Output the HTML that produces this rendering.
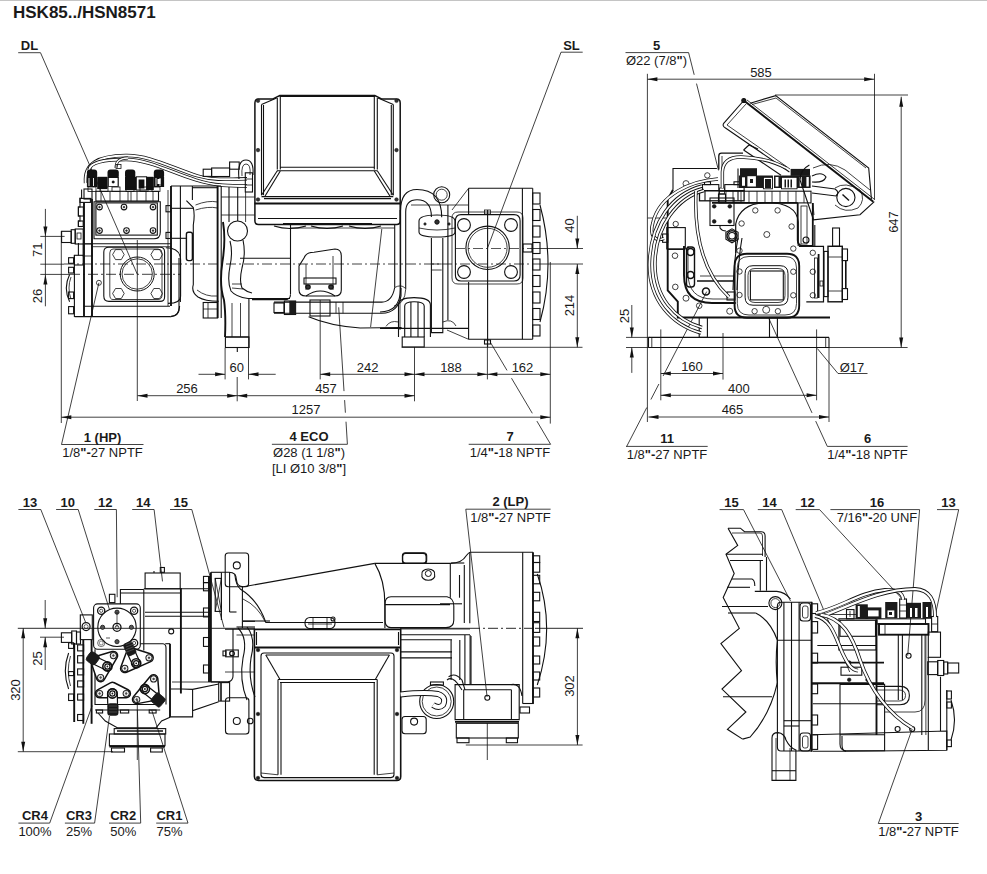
<!DOCTYPE html>
<html><head><meta charset="utf-8"><style>
html,body{margin:0;padding:0;background:#fff;}
svg{display:block;font-family:"Liberation Sans",sans-serif;fill:#1a1a1a;}
</style></head><body>
<svg width="987" height="874" viewBox="0 0 987 874">
<rect x="0" y="0" width="987" height="874" fill="#fff"/>
<line x1="0" y1="0.5" x2="987" y2="0.5" stroke="#c4c4c4" stroke-width="1.2"/>
<g stroke-linecap="butt">
<text x="13" y="17.8" font-size="17" font-weight="bold" text-anchor="start">HSK85../HSN8571</text>
<text x="29.5" y="49.6" font-size="13" font-weight="bold" text-anchor="middle">DL</text>
<line x1="18.2" y1="52.7" x2="40.5" y2="52.7" stroke="#111" stroke-width="0.8" />
<line x1="40.5" y1="52.7" x2="137.2" y2="274.0" stroke="#111" stroke-width="0.8" />
<text x="571.5" y="49.6" font-size="13" font-weight="bold" text-anchor="middle">SL</text>
<line x1="561.0" y1="52.2" x2="582.7" y2="52.2" stroke="#111" stroke-width="0.8" />
<line x1="561.0" y1="52.2" x2="487.6" y2="247.8" stroke="#111" stroke-width="0.8" />
<line x1="198.5" y1="374.3" x2="225.1" y2="374.3" stroke="#111" stroke-width="0.8" />
<polygon points="225.1,374.3 215.1,372.3 215.1,376.3" fill="#111"/>
<line x1="248.5" y1="374.3" x2="275.7" y2="374.3" stroke="#111" stroke-width="0.8" />
<polygon points="248.5,374.3 258.5,372.3 258.5,376.3" fill="#111"/>
<text x="236.8" y="371.5" font-size="13" text-anchor="middle">60</text>
<line x1="137.5" y1="395.7" x2="237.2" y2="395.7" stroke="#111" stroke-width="0.8" />
<polygon points="137.5,395.7 147.5,393.7 147.5,397.7" fill="#111"/>
<polygon points="237.2,395.7 227.2,393.7 227.2,397.7" fill="#111"/>
<text x="187" y="392.8" font-size="13" text-anchor="middle">256</text>
<line x1="237.2" y1="395.7" x2="414.5" y2="395.7" stroke="#111" stroke-width="0.8" />
<polygon points="237.2,395.7 247.2,393.7 247.2,397.7" fill="#111"/>
<polygon points="414.5,395.7 404.5,393.7 404.5,397.7" fill="#111"/>
<text x="326" y="392.8" font-size="13" text-anchor="middle">457</text>
<line x1="320.2" y1="374.3" x2="414.5" y2="374.3" stroke="#111" stroke-width="0.8" />
<polygon points="320.2,374.3 330.2,372.3 330.2,376.3" fill="#111"/>
<polygon points="414.5,374.3 404.5,372.3 404.5,376.3" fill="#111"/>
<text x="367.6" y="371.5" font-size="13" text-anchor="middle">242</text>
<line x1="414.5" y1="374.3" x2="487.4" y2="374.3" stroke="#111" stroke-width="0.8" />
<polygon points="414.5,374.3 424.5,372.3 424.5,376.3" fill="#111"/>
<polygon points="487.4,374.3 477.4,372.3 477.4,376.3" fill="#111"/>
<text x="451" y="371.5" font-size="13" text-anchor="middle">188</text>
<line x1="487.4" y1="374.3" x2="550.3" y2="374.3" stroke="#111" stroke-width="0.8" />
<polygon points="487.4,374.3 497.4,372.3 497.4,376.3" fill="#111"/>
<polygon points="550.3,374.3 540.3,372.3 540.3,376.3" fill="#111"/>
<text x="522.5" y="371.5" font-size="13" text-anchor="middle">162</text>
<line x1="61.3" y1="417.2" x2="550.3" y2="417.2" stroke="#111" stroke-width="0.8" />
<polygon points="61.3,417.2 71.3,415.2 71.3,419.2" fill="#111"/>
<polygon points="550.3,417.2 540.3,415.2 540.3,419.2" fill="#111"/>
<text x="306" y="414" font-size="13" text-anchor="middle">1257</text>
<line x1="61.3" y1="231.0" x2="61.3" y2="423.0" stroke="#111" stroke-width="0.8" />
<line x1="137.3" y1="240.0" x2="137.3" y2="401.0" stroke="#111" stroke-width="0.8" />
<line x1="225.1" y1="348.0" x2="225.1" y2="379.4" stroke="#111" stroke-width="0.8" />
<line x1="248.5" y1="348.0" x2="248.5" y2="379.4" stroke="#111" stroke-width="0.8" />
<line x1="237.2" y1="377.0" x2="237.2" y2="401.3" stroke="#111" stroke-width="0.8" />
<line x1="320.2" y1="300.0" x2="320.2" y2="379.4" stroke="#111" stroke-width="0.8" />
<line x1="414.5" y1="347.0" x2="414.5" y2="401.3" stroke="#111" stroke-width="0.8" />
<line x1="487.4" y1="340.0" x2="487.4" y2="379.4" stroke="#111" stroke-width="0.8" />
<line x1="550.3" y1="262.0" x2="550.3" y2="423.6" stroke="#111" stroke-width="0.8" />
<line x1="577.3" y1="215.8" x2="577.3" y2="248.5" stroke="#111" stroke-width="0.8" />
<polygon points="577.3,248.5 575.3,238.5 579.3,238.5" fill="#111"/>
<line x1="577.3" y1="264.0" x2="577.3" y2="347.3" stroke="#111" stroke-width="0.8" />
<polygon points="577.3,264.0 575.3,274.0 579.3,274.0" fill="#111"/>
<polygon points="577.3,347.3 575.3,337.3 579.3,337.3" fill="#111"/>
<text x="574" y="225.5" font-size="13" text-anchor="middle" transform="rotate(-90 574 225.5)">40</text>
<text x="574" y="305.5" font-size="13" text-anchor="middle" transform="rotate(-90 574 305.5)">214</text>
<line x1="530.0" y1="248.5" x2="583.0" y2="248.5" stroke="#111" stroke-width="0.8" />
<line x1="540.0" y1="264.0" x2="583.0" y2="264.0" stroke="#111" stroke-width="0.8" />
<line x1="401.7" y1="347.3" x2="582.5" y2="347.3" stroke="#111" stroke-width="0.8" />
<line x1="45.4" y1="208.9" x2="45.4" y2="236.4" stroke="#111" stroke-width="0.8" />
<polygon points="45.4,236.4 43.4,226.4 47.4,226.4" fill="#111"/>
<line x1="45.4" y1="236.4" x2="45.4" y2="274.5" stroke="#111" stroke-width="0.8" />
<line x1="45.4" y1="274.5" x2="45.4" y2="306.3" stroke="#111" stroke-width="0.8" />
<polygon points="45.4,274.5 43.4,284.5 47.4,284.5" fill="#111"/>
<text x="42.3" y="249.8" font-size="13" text-anchor="middle" transform="rotate(-90 42.3 249.8)">71</text>
<text x="42.3" y="296" font-size="13" text-anchor="middle" transform="rotate(-90 42.3 296)">26</text>
<line x1="40.3" y1="236.4" x2="64.6" y2="236.4" stroke="#111" stroke-width="0.8" />
<line x1="40.3" y1="264.2" x2="64.0" y2="264.2" stroke="#111" stroke-width="0.8" />
<line x1="40.3" y1="274.4" x2="70.0" y2="274.4" stroke="#111" stroke-width="0.8" />
<line x1="61.5" y1="444.5" x2="143.5" y2="444.5" stroke="#111" stroke-width="0.8" />
<text x="102.5" y="441.5" font-size="13" font-weight="bold" text-anchor="middle">1 (HP)</text>
<text x="102.5" y="457.0" font-size="13" text-anchor="middle">1/8<tspan font-weight="bold">"-</tspan>27 NPTF</text>
<line x1="61.5" y1="444.5" x2="98.9" y2="282.8" stroke="#111" stroke-width="0.8" />
<line x1="271.9" y1="444.3" x2="347.4" y2="444.3" stroke="#111" stroke-width="0.8" />
<text x="309" y="441.3" font-size="13" font-weight="bold" text-anchor="middle">4 ECO</text>
<text x="309" y="456.8" font-size="13" text-anchor="middle">Ø28 (1 1/8<tspan font-weight="bold">"</tspan>)</text>
<text x="309" y="473.3" font-size="13" text-anchor="middle">[LI Ø10 3/8<tspan font-weight="bold">"</tspan>]</text>
<line x1="347.4" y1="444.3" x2="346.0" y2="421.7" stroke="#111" stroke-width="0.8" />
<line x1="345.4" y1="412.7" x2="344.6" y2="400.1" stroke="#111" stroke-width="0.8" />
<line x1="344.0" y1="391.1" x2="338.7" y2="307.3" stroke="#111" stroke-width="0.8" />
<line x1="468.7" y1="444.3" x2="550.6" y2="444.3" stroke="#111" stroke-width="0.8" />
<text x="510" y="441.3" font-size="13" font-weight="bold" text-anchor="middle">7</text>
<text x="510" y="456.8" font-size="13" text-anchor="middle">1/4<tspan font-weight="bold">"-</tspan>18 NPTF</text>
<line x1="550.6" y1="444.3" x2="536.9" y2="421.1" stroke="#111" stroke-width="0.8" />
<line x1="532.3" y1="413.3" x2="511.5" y2="378.2" stroke="#111" stroke-width="0.8" />
<line x1="507.0" y1="370.4" x2="490.0" y2="341.7" stroke="#111" stroke-width="0.8" />
<line x1="625.5" y1="52.6" x2="688.6" y2="52.6" stroke="#111" stroke-width="0.8" />
<text x="656.5" y="49.6" font-size="13" font-weight="bold" text-anchor="middle">5</text>
<text x="656.5" y="65.1" font-size="13" text-anchor="middle">Ø22 (7/8<tspan font-weight="bold">"</tspan>)</text>
<line x1="688.6" y1="52.6" x2="694.2" y2="74.8" stroke="#111" stroke-width="0.8" />
<line x1="696.5" y1="83.6" x2="718.5" y2="170.4" stroke="#111" stroke-width="0.8" />
<line x1="647.4" y1="79.2" x2="874.2" y2="79.2" stroke="#111" stroke-width="0.8" />
<polygon points="647.4,79.2 657.4,77.2 657.4,81.2" fill="#111"/>
<polygon points="874.2,79.2 864.2,77.2 864.2,81.2" fill="#111"/>
<text x="761" y="76.7" font-size="13" text-anchor="middle">585</text>
<line x1="647.4" y1="73.8" x2="647.4" y2="422.0" stroke="#111" stroke-width="0.8" />
<line x1="874.5" y1="73.8" x2="874.5" y2="200.0" stroke="#111" stroke-width="0.8" />
<line x1="775.0" y1="95.0" x2="908.0" y2="95.0" stroke="#111" stroke-width="0.8" />
<line x1="901.2" y1="96.7" x2="901.2" y2="347.5" stroke="#111" stroke-width="0.8" />
<polygon points="901.2,96.7 899.2,106.7 903.2,106.7" fill="#111"/>
<polygon points="901.2,347.5 899.2,337.5 903.2,337.5" fill="#111"/>
<text x="897.5" y="222" font-size="13" text-anchor="middle" transform="rotate(-90 897.5 222)">647</text>
<line x1="626.0" y1="337.4" x2="650.0" y2="337.4" stroke="#111" stroke-width="0.8" />
<line x1="626.0" y1="347.5" x2="907.6" y2="347.5" stroke="#111" stroke-width="0.8" />
<line x1="631.8" y1="305.0" x2="631.8" y2="337.4" stroke="#111" stroke-width="0.8" />
<polygon points="631.8,337.4 629.8,327.4 633.8,327.4" fill="#111"/>
<line x1="631.8" y1="347.5" x2="631.8" y2="372.9" stroke="#111" stroke-width="0.8" />
<polygon points="631.8,347.5 629.8,357.5 633.8,357.5" fill="#111"/>
<text x="628.5" y="316" font-size="13" text-anchor="middle" transform="rotate(-90 628.5 316)">25</text>
<line x1="660.8" y1="329.4" x2="660.8" y2="400.3" stroke="#111" stroke-width="0.8" />
<line x1="723.0" y1="333.0" x2="723.0" y2="379.6" stroke="#111" stroke-width="0.8" />
<line x1="816.6" y1="329.4" x2="816.6" y2="400.3" stroke="#111" stroke-width="0.8" />
<line x1="829.0" y1="347.0" x2="829.0" y2="422.0" stroke="#111" stroke-width="0.8" />
<line x1="660.8" y1="373.5" x2="723.0" y2="373.5" stroke="#111" stroke-width="0.8" />
<polygon points="660.8,373.5 670.8,371.5 670.8,375.5" fill="#111"/>
<polygon points="723.0,373.5 713.0,371.5 713.0,375.5" fill="#111"/>
<text x="692" y="370.9" font-size="13" text-anchor="middle">160</text>
<line x1="660.8" y1="395.3" x2="816.6" y2="395.3" stroke="#111" stroke-width="0.8" />
<polygon points="660.8,395.3 670.8,393.3 670.8,397.3" fill="#111"/>
<polygon points="816.6,395.3 806.6,393.3 806.6,397.3" fill="#111"/>
<text x="738.8" y="392.6" font-size="13" text-anchor="middle">400</text>
<line x1="648.5" y1="417.0" x2="829.0" y2="417.0" stroke="#111" stroke-width="0.8" />
<polygon points="648.5,417.0 658.5,415.0 658.5,419.0" fill="#111"/>
<polygon points="829.0,417.0 819.0,415.0 819.0,419.0" fill="#111"/>
<text x="732.5" y="413.7" font-size="13" text-anchor="middle">465</text>
<line x1="626.0" y1="446.4" x2="707.7" y2="446.4" stroke="#111" stroke-width="0.8" />
<text x="667" y="443.4" font-size="13" font-weight="bold" text-anchor="middle">11</text>
<text x="667" y="458.9" font-size="13" text-anchor="middle">1/8<tspan font-weight="bold">"-</tspan>27 NPTF</text>
<line x1="626.7" y1="446.4" x2="646.8" y2="407.5" stroke="#111" stroke-width="0.8" />
<line x1="650.9" y1="399.5" x2="658.9" y2="384.0" stroke="#111" stroke-width="0.8" />
<line x1="663.1" y1="376.0" x2="706.7" y2="291.6" stroke="#111" stroke-width="0.8" />
<line x1="827.3" y1="446.4" x2="907.6" y2="446.4" stroke="#111" stroke-width="0.8" />
<text x="867.5" y="443.4" font-size="13" font-weight="bold" text-anchor="middle">6</text>
<text x="867.5" y="458.9" font-size="13" text-anchor="middle">1/4<tspan font-weight="bold">"-</tspan>18 NPTF</text>
<line x1="827.3" y1="446.4" x2="815.7" y2="421.1" stroke="#111" stroke-width="0.8" />
<line x1="812.0" y1="412.9" x2="768.8" y2="318.4" stroke="#111" stroke-width="0.8" />
<text x="852" y="371.9" font-size="13" text-anchor="middle">Ø17</text>
<line x1="838.0" y1="373.5" x2="867.5" y2="373.5" stroke="#111" stroke-width="0.8" />
<line x1="838.0" y1="373.5" x2="817.3" y2="348.5" stroke="#111" stroke-width="0.8" />
<line x1="18.4" y1="509.5" x2="40.8" y2="509.5" stroke="#111" stroke-width="0.8" />
<text x="30" y="506.5" font-size="13" font-weight="bold" text-anchor="middle">13</text>
<line x1="56.1" y1="509.5" x2="78.2" y2="509.5" stroke="#111" stroke-width="0.8" />
<text x="67.8" y="506.5" font-size="13" font-weight="bold" text-anchor="middle">10</text>
<line x1="94.3" y1="509.5" x2="116.4" y2="509.5" stroke="#111" stroke-width="0.8" />
<text x="105.2" y="506.5" font-size="13" font-weight="bold" text-anchor="middle">12</text>
<line x1="132.2" y1="509.5" x2="154.1" y2="509.5" stroke="#111" stroke-width="0.8" />
<text x="143.2" y="506.5" font-size="13" font-weight="bold" text-anchor="middle">14</text>
<line x1="170.0" y1="509.5" x2="191.8" y2="509.5" stroke="#111" stroke-width="0.8" />
<text x="180.8" y="506.5" font-size="13" font-weight="bold" text-anchor="middle">15</text>
<line x1="40.8" y1="509.5" x2="85.6" y2="622.3" stroke="#111" stroke-width="0.8" />
<line x1="78.2" y1="509.5" x2="109.3" y2="609.0" stroke="#111" stroke-width="0.8" />
<line x1="116.4" y1="509.5" x2="117.2" y2="597.2" stroke="#111" stroke-width="0.8" />
<line x1="154.1" y1="509.5" x2="162.5" y2="581.4" stroke="#111" stroke-width="0.8" />
<line x1="191.8" y1="509.5" x2="224.0" y2="627.5" stroke="#111" stroke-width="0.8" />
<line x1="465.8" y1="509.2" x2="550.6" y2="509.2" stroke="#111" stroke-width="0.8" />
<text x="510.5" y="506.2" font-size="13" font-weight="bold" text-anchor="middle">2 (LP)</text>
<text x="510.5" y="521.7" font-size="13" text-anchor="middle">1/8<tspan font-weight="bold">"-</tspan>27 NPTF</text>
<line x1="465.8" y1="509.2" x2="487.1" y2="697.0" stroke="#111" stroke-width="0.8" />
<line x1="17.8" y1="628.3" x2="255.0" y2="628.3" stroke="#111" stroke-width="0.9" />
<line x1="400.0" y1="628.3" x2="470.0" y2="628.3" stroke="#111" stroke-width="0.9" />
<line x1="470.0" y1="628.3" x2="535.0" y2="628.3" stroke="#111" stroke-width="0.9" stroke-dasharray="10 3 2 3"/>
<line x1="535.0" y1="628.3" x2="583.0" y2="628.3" stroke="#111" stroke-width="0.9" />
<line x1="40.0" y1="637.2" x2="64.0" y2="637.2" stroke="#111" stroke-width="0.8" />
<line x1="45.2" y1="600.0" x2="45.2" y2="628.3" stroke="#111" stroke-width="0.8" />
<polygon points="45.2,628.3 43.2,618.3 47.2,618.3" fill="#111"/>
<line x1="45.2" y1="637.2" x2="45.2" y2="670.0" stroke="#111" stroke-width="0.8" />
<polygon points="45.2,637.2 43.2,647.2 47.2,647.2" fill="#111"/>
<text x="42" y="658.5" font-size="13" text-anchor="middle" transform="rotate(-90 42 658.5)">25</text>
<line x1="23.2" y1="628.3" x2="23.2" y2="751.7" stroke="#111" stroke-width="0.8" />
<polygon points="23.2,628.3 21.2,638.3 25.2,638.3" fill="#111"/>
<polygon points="23.2,751.7 21.2,741.7 25.2,741.7" fill="#111"/>
<text x="20" y="690" font-size="13" text-anchor="middle" transform="rotate(-90 20 690)">320</text>
<line x1="17.8" y1="751.7" x2="113.0" y2="751.7" stroke="#111" stroke-width="0.8" />
<line x1="577.4" y1="628.3" x2="577.4" y2="745.0" stroke="#111" stroke-width="0.8" />
<polygon points="577.4,628.3 575.4,638.3 579.4,638.3" fill="#111"/>
<polygon points="577.4,745.0 575.4,735.0 579.4,735.0" fill="#111"/>
<text x="574" y="686" font-size="13" text-anchor="middle" transform="rotate(-90 574 686)">302</text>
<line x1="465.8" y1="745.0" x2="582.6" y2="745.0" stroke="#111" stroke-width="0.8" />
<line x1="18.4" y1="823.1" x2="49.7" y2="823.1" stroke="#111" stroke-width="0.8" />
<text x="35" y="820.1" font-size="13" font-weight="bold" text-anchor="middle">CR4</text>
<text x="35" y="835.6" font-size="13" text-anchor="middle">100%</text>
<line x1="64.9" y1="823.1" x2="94.6" y2="823.1" stroke="#111" stroke-width="0.8" />
<text x="79" y="820.1" font-size="13" font-weight="bold" text-anchor="middle">CR3</text>
<text x="79" y="835.6" font-size="13" text-anchor="middle">25%</text>
<line x1="109.0" y1="823.1" x2="140.7" y2="823.1" stroke="#111" stroke-width="0.8" />
<text x="123.2" y="820.1" font-size="13" font-weight="bold" text-anchor="middle">CR2</text>
<text x="123.2" y="835.6" font-size="13" text-anchor="middle">50%</text>
<line x1="156.2" y1="823.1" x2="188.0" y2="823.1" stroke="#111" stroke-width="0.8" />
<text x="169.5" y="820.1" font-size="13" font-weight="bold" text-anchor="middle">CR1</text>
<text x="169.5" y="835.6" font-size="13" text-anchor="middle">75%</text>
<line x1="49.7" y1="823.1" x2="92.2" y2="705.6" stroke="#111" stroke-width="0.8" />
<line x1="94.6" y1="823.1" x2="109.5" y2="716.0" stroke="#111" stroke-width="0.8" />
<line x1="140.7" y1="823.1" x2="137.4" y2="710.0" stroke="#111" stroke-width="0.8" />
<line x1="188.0" y1="823.1" x2="151.7" y2="710.0" stroke="#111" stroke-width="0.8" />
<line x1="719.6" y1="509.6" x2="743.5" y2="509.6" stroke="#111" stroke-width="0.8" />
<text x="731.5" y="506.6" font-size="13" font-weight="bold" text-anchor="middle">15</text>
<line x1="757.8" y1="509.6" x2="781.7" y2="509.6" stroke="#111" stroke-width="0.8" />
<text x="769.5" y="506.6" font-size="13" font-weight="bold" text-anchor="middle">14</text>
<line x1="795.7" y1="509.6" x2="819.6" y2="509.6" stroke="#111" stroke-width="0.8" />
<text x="807.6" y="506.6" font-size="13" font-weight="bold" text-anchor="middle">12</text>
<line x1="937.0" y1="509.6" x2="958.7" y2="509.6" stroke="#111" stroke-width="0.8" />
<text x="948.5" y="506.6" font-size="13" font-weight="bold" text-anchor="middle">13</text>
<line x1="830.4" y1="509.6" x2="919.6" y2="509.6" stroke="#111" stroke-width="0.8" />
<text x="877" y="506.6" font-size="13" font-weight="bold" text-anchor="middle">16</text>
<text x="877" y="522.1" font-size="13" text-anchor="middle">7/16<tspan font-weight="bold">"-</tspan>20 UNF</text>
<line x1="878.3" y1="823.5" x2="958.7" y2="823.5" stroke="#111" stroke-width="0.8" />
<text x="918.5" y="820.5" font-size="13" font-weight="bold" text-anchor="middle">3</text>
<text x="918.5" y="836.0" font-size="13" text-anchor="middle">1/8<tspan font-weight="bold">"-</tspan>27 NPTF</text>
<line x1="64.0" y1="264.0" x2="540.0" y2="264.0" stroke="#111" stroke-width="0.8" stroke-dasharray="10 3 2 3"/>
<line x1="70.0" y1="274.3" x2="180.0" y2="274.3" stroke="#111" stroke-width="0.8" stroke-dasharray="10 3 2 3"/>
<line x1="455.0" y1="248.5" x2="530.0" y2="248.5" stroke="#111" stroke-width="0.7" stroke-dasharray="10 3 2 3"/>
<path d="M254.9,103 Q254.9,99.1 258.5,99.1 L272.5,99.1 L279.8,95.5 L374.8,95.5 L382,99.1 L396.5,99.1 Q400.2,99.1 400.2,103 L400.2,221 Q400.2,224.5 396.7,224.5 L258.5,224.5 Q254.9,224.5 254.9,221 Z" fill="none" stroke="#111" stroke-width="1.5" />
<line x1="279.8" y1="95.9" x2="374.8" y2="95.9" stroke="#111" stroke-width="2.0" />
<line x1="261.5" y1="104.6" x2="261.5" y2="195.2" stroke="#111" stroke-width="1.1" />
<line x1="263.5" y1="105.0" x2="263.5" y2="195.2" stroke="#111" stroke-width="1.1" />
<line x1="261.5" y1="104.6" x2="276.7" y2="97.9" stroke="#111" stroke-width="1.1" />
<line x1="393.3" y1="104.6" x2="393.3" y2="195.2" stroke="#111" stroke-width="1.1" />
<line x1="391.3" y1="105.0" x2="391.3" y2="195.2" stroke="#111" stroke-width="1.1" />
<line x1="393.3" y1="104.6" x2="378.0" y2="97.9" stroke="#111" stroke-width="1.1" />
<line x1="277.3" y1="98.0" x2="277.3" y2="169.4" stroke="#111" stroke-width="1.1" />
<line x1="280.3" y1="96.0" x2="280.3" y2="169.4" stroke="#111" stroke-width="1.1" />
<line x1="374.3" y1="96.0" x2="374.3" y2="169.4" stroke="#111" stroke-width="1.1" />
<line x1="377.3" y1="98.0" x2="377.3" y2="169.4" stroke="#111" stroke-width="1.1" />
<line x1="280.0" y1="167.3" x2="374.5" y2="167.3" stroke="#111" stroke-width="1.1" />
<line x1="277.0" y1="170.8" x2="377.5" y2="170.8" stroke="#111" stroke-width="1.1" />
<line x1="277.3" y1="170.8" x2="261.5" y2="195.2" stroke="#111" stroke-width="1.1" />
<line x1="280.3" y1="171.0" x2="264.5" y2="197.0" stroke="#111" stroke-width="1.1" />
<line x1="377.3" y1="170.8" x2="393.3" y2="195.2" stroke="#111" stroke-width="1.1" />
<line x1="374.3" y1="171.0" x2="390.5" y2="197.0" stroke="#111" stroke-width="1.1" />
<line x1="261.5" y1="196.6" x2="393.3" y2="196.6" stroke="#111" stroke-width="1.1" />
<line x1="264.0" y1="198.6" x2="391.0" y2="198.6" stroke="#111" stroke-width="1.1" />
<line x1="254.6" y1="203.5" x2="400.2" y2="203.5" stroke="#111" stroke-width="2.0" />
<line x1="258.0" y1="218.5" x2="397.0" y2="218.5" stroke="#111" stroke-width="1.1" />
<circle cx="258.0" cy="100.8" r="1.8" fill="#333" stroke="#111" stroke-width="0.5"/>
<circle cx="258.0" cy="150.1" r="1.8" fill="#333" stroke="#111" stroke-width="0.5"/>
<circle cx="258.0" cy="199.5" r="1.8" fill="#333" stroke="#111" stroke-width="0.5"/>
<circle cx="396.5" cy="100.8" r="1.8" fill="#333" stroke="#111" stroke-width="0.5"/>
<circle cx="396.5" cy="150.1" r="1.8" fill="#333" stroke="#111" stroke-width="0.5"/>
<circle cx="396.5" cy="199.5" r="1.8" fill="#333" stroke="#111" stroke-width="0.5"/>
<path d="M274,226 Q290,231 306,226" fill="none" stroke="#111" stroke-width="1.1" />
<path d="M311,226 Q327,231 343,226" fill="none" stroke="#111" stroke-width="1.1" />
<path d="M349,226 Q365,231 381,226" fill="none" stroke="#111" stroke-width="1.1" />
<line x1="283.0" y1="223.5" x2="372.0" y2="223.5" stroke="#111" stroke-width="1.1" />
<path d="M85.5,183 C84,163 98,156 125.7,155.5 C150,155 172,168 198,176 C215,181 232,179 247,178.8" fill="none" stroke="#111" stroke-width="3.4"/>
<path d="M85.5,183 C84,163 98,156 125.7,155.5 C150,155 172,168 198,176 C215,181 232,179 247,178.8" fill="none" stroke="#fff" stroke-width="1.7999999999999998"/>
<path d="M89,170 C90,162 104,159.5 126,159.5 C150,160 170,172 196,180 C214,186 232,186 247,186" fill="none" stroke="#111" stroke-width="3.4"/>
<path d="M89,170 C90,162 104,159.5 126,159.5 C150,160 170,172 196,180 C214,186 232,186 247,186" fill="none" stroke="#fff" stroke-width="1.7999999999999998"/>
<path d="M116,168 C116,162 118,158.5 128,158" fill="none" stroke="#111" stroke-width="2.8"/>
<path d="M116,168 C116,162 118,158.5 128,158" fill="none" stroke="#fff" stroke-width="1.4"/>
<rect x="86.9" y="169.6" width="10.3" height="9.0" rx="3" fill="#111" stroke="#111" stroke-width="0"/>
<rect x="107.5" y="169.6" width="11.3" height="9.0" rx="3" fill="#111" stroke="#111" stroke-width="0"/>
<rect x="125.0" y="169.6" width="10.3" height="9.0" rx="3" fill="#111" stroke="#111" stroke-width="0"/>
<rect x="153.8" y="169.6" width="10.3" height="9.0" rx="3" fill="#111" stroke="#111" stroke-width="0"/>
<rect x="86.9" y="176.8" width="10.3" height="10.2" rx="0" fill="#111" stroke="#111" stroke-width="0"/>
<rect x="97.2" y="176.8" width="10.3" height="12.3" rx="0" fill="#111" stroke="#111" stroke-width="0"/>
<rect x="107.5" y="176.8" width="11.3" height="10.0" rx="0" fill="#111" stroke="#111" stroke-width="0"/>
<rect x="108.8" y="178.0" width="8.8" height="8.0" rx="0" fill="#fff" stroke="#111" stroke-width="0"/>
<circle cx="113.2" cy="182.0" r="1.3" fill="#111" stroke="#111" stroke-width="0.3"/>
<rect x="125.0" y="176.8" width="11.3" height="13.2" rx="0" fill="#111" stroke="#111" stroke-width="0"/>
<rect x="136.3" y="176.8" width="10.3" height="13.2" rx="0" fill="#fff" stroke="#111" stroke-width="1.0"/>
<rect x="138.6" y="179.5" width="5.8" height="9.0" rx="0" fill="#111" stroke="#111" stroke-width="0"/>
<rect x="146.6" y="176.8" width="7.2" height="13.2" rx="0" fill="#111" stroke="#111" stroke-width="0"/>
<rect x="153.8" y="176.8" width="10.3" height="10.2" rx="0" fill="#111" stroke="#111" stroke-width="0"/>
<line x1="89.0" y1="178.0" x2="89.0" y2="186.0" stroke="#fff" stroke-width="0.9" />
<line x1="93.5" y1="178.0" x2="93.5" y2="186.0" stroke="#fff" stroke-width="0.9" />
<line x1="156.0" y1="178.0" x2="156.0" y2="186.0" stroke="#fff" stroke-width="0.9" />
<line x1="160.0" y1="178.0" x2="160.0" y2="186.0" stroke="#fff" stroke-width="0.9" />
<rect x="157.5" y="179.0" width="3.0" height="5.0" rx="0" fill="#fff" stroke="#111" stroke-width="0"/>
<rect x="116.0" y="164.5" width="5.0" height="4.0" rx="0" fill="none" stroke="#111" stroke-width="0.8"/>
<rect x="88.0" y="187.0" width="8.0" height="4.5" rx="0" fill="none" stroke="#111" stroke-width="0.8"/>
<rect x="100.0" y="187.0" width="8.0" height="4.5" rx="0" fill="none" stroke="#111" stroke-width="0.8"/>
<rect x="112.0" y="187.0" width="8.0" height="4.5" rx="0" fill="none" stroke="#111" stroke-width="0.8"/>
<rect x="126.0" y="187.0" width="8.0" height="4.5" rx="0" fill="none" stroke="#111" stroke-width="0.8"/>
<rect x="140.0" y="187.0" width="8.0" height="4.5" rx="0" fill="none" stroke="#111" stroke-width="0.8"/>
<rect x="152.0" y="187.0" width="8.0" height="4.5" rx="0" fill="none" stroke="#111" stroke-width="0.8"/>
<rect x="95.9" y="191.3" width="62.6" height="9.7" rx="0" fill="none" stroke="#111" stroke-width="1.1"/>
<line x1="101.0" y1="191.3" x2="101.0" y2="201.0" stroke="#111" stroke-width="0.8" />
<line x1="110.0" y1="191.3" x2="110.0" y2="201.0" stroke="#111" stroke-width="0.8" />
<line x1="120.0" y1="191.3" x2="120.0" y2="201.0" stroke="#111" stroke-width="0.8" />
<line x1="128.0" y1="191.3" x2="128.0" y2="201.0" stroke="#111" stroke-width="0.8" />
<line x1="131.0" y1="191.3" x2="131.0" y2="201.0" stroke="#111" stroke-width="0.8" />
<line x1="137.0" y1="191.3" x2="137.0" y2="201.0" stroke="#111" stroke-width="0.8" />
<line x1="146.0" y1="191.3" x2="146.0" y2="201.0" stroke="#111" stroke-width="0.8" />
<line x1="153.0" y1="191.3" x2="153.0" y2="201.0" stroke="#111" stroke-width="0.8" />
<path d="M94,201.7 L160.3,201.7 L160.3,232 Q160.3,238.8 154,238.8 L94,238.8 Z" fill="none" stroke="#111" stroke-width="1.1" />
<rect x="95.9" y="202.9" width="61.4" height="32.2" rx="0" fill="none" stroke="#111" stroke-width="1.1"/>
<circle cx="99.5" cy="207.1" r="2.8" fill="none" stroke="#111" stroke-width="1.1"/>
<circle cx="99.5" cy="207.1" r="0.9" fill="#333" stroke="#111" stroke-width="0.5"/>
<circle cx="124.0" cy="207.1" r="2.8" fill="none" stroke="#111" stroke-width="1.1"/>
<circle cx="124.0" cy="207.1" r="0.9" fill="#333" stroke="#111" stroke-width="0.5"/>
<circle cx="153.0" cy="207.1" r="2.8" fill="none" stroke="#111" stroke-width="1.1"/>
<circle cx="153.0" cy="207.1" r="0.9" fill="#333" stroke="#111" stroke-width="0.5"/>
<circle cx="99.5" cy="230.6" r="2.8" fill="none" stroke="#111" stroke-width="1.1"/>
<circle cx="99.5" cy="230.6" r="0.9" fill="#333" stroke="#111" stroke-width="0.5"/>
<circle cx="126.5" cy="230.6" r="2.8" fill="none" stroke="#111" stroke-width="1.1"/>
<circle cx="126.5" cy="230.6" r="0.9" fill="#333" stroke="#111" stroke-width="0.5"/>
<circle cx="153.0" cy="230.6" r="2.8" fill="none" stroke="#111" stroke-width="1.1"/>
<circle cx="153.0" cy="230.6" r="0.9" fill="#333" stroke="#111" stroke-width="0.5"/>
<line x1="92.0" y1="199.0" x2="92.0" y2="317.0" stroke="#111" stroke-width="1.9" />
<line x1="84.0" y1="202.4" x2="84.0" y2="317.0" stroke="#111" stroke-width="1.9" />
<path d="M81.6,189.6 L81.6,198.4 L80,198.4 L80,207 L78.4,207 L78.4,216 L80,216 L80,221 L78.4,221 L78.4,226.5 L83,226.5" fill="none" stroke="#111" stroke-width="1.1" />
<rect x="80.0" y="198.4" width="10.4" height="4.0" rx="0" fill="none" stroke="#111" stroke-width="1.1"/>
<rect x="78.4" y="207.0" width="5.0" height="9.0" rx="0" fill="none" stroke="#111" stroke-width="1.1"/>
<rect x="78.4" y="221.0" width="4.8" height="5.5" rx="0" fill="none" stroke="#111" stroke-width="1.1"/>
<line x1="78.4" y1="243.0" x2="78.4" y2="255.3" stroke="#111" stroke-width="1.1" />
<rect x="74.4" y="255.3" width="8.8" height="9.7" rx="0" fill="none" stroke="#111" stroke-width="1.1"/>
<line x1="74.4" y1="255.3" x2="74.4" y2="317.0" stroke="#111" stroke-width="1.1" />
<rect x="68.6" y="257.7" width="5.0" height="5.6" rx="0" fill="none" stroke="#111" stroke-width="1.1"/>
<rect x="68.6" y="267.3" width="5.0" height="5.7" rx="0" fill="none" stroke="#111" stroke-width="1.1"/>
<rect x="68.6" y="292.0" width="5.0" height="6.6" rx="0" fill="none" stroke="#111" stroke-width="1.1"/>
<rect x="68.6" y="306.6" width="5.0" height="7.2" rx="0" fill="none" stroke="#111" stroke-width="1.1"/>
<path d="M69.6,274.5 Q63,288 69.6,301.8" fill="none" stroke="#111" stroke-width="1.1" />
<path d="M71,277 Q67,288 71,299" fill="none" stroke="#111" stroke-width="0.8" />
<rect x="83.0" y="244.0" width="9.0" height="12.0" rx="0" fill="none" stroke="#111" stroke-width="0.8"/>
<line x1="171.0" y1="186.0" x2="171.0" y2="306.0" stroke="#111" stroke-width="1.9" />
<line x1="168.0" y1="190.0" x2="168.0" y2="306.0" stroke="#111" stroke-width="0.8" />
<rect x="166.0" y="205.6" width="4.5" height="6.2" rx="0" fill="none" stroke="#111" stroke-width="1.1"/>
<rect x="166.0" y="232.4" width="4.5" height="6.1" rx="0" fill="none" stroke="#111" stroke-width="1.1"/>
<rect x="84.0" y="189.0" width="8.0" height="10.0" rx="0" fill="none" stroke="#111" stroke-width="1.1"/>
<rect x="61.6" y="231.3" width="9.6" height="11.2" rx="0" fill="none" stroke="#111" stroke-width="1.1"/>
<rect x="71.2" y="229.7" width="4.0" height="13.6" rx="0" fill="none" stroke="#111" stroke-width="1.1"/>
<rect x="75.2" y="229.0" width="8.0" height="15.0" rx="0" fill="none" stroke="#111" stroke-width="1.1"/>
<rect x="77.0" y="233.0" width="4.0" height="6.0" rx="0" fill="none" stroke="#111" stroke-width="0.8"/>
<line x1="74.6" y1="316.6" x2="170.6" y2="316.6" stroke="#111" stroke-width="1.1" />
<path d="M170.6,316.6 Q179,316 179,308 L179,258" fill="none" stroke="#111" stroke-width="1.1" />
<line x1="83.7" y1="306.3" x2="170.0" y2="306.3" stroke="#111" stroke-width="1.1" />
<line x1="84.0" y1="243.7" x2="171.0" y2="243.7" stroke="#111" stroke-width="1.1" />
<line x1="92.0" y1="246.7" x2="171.0" y2="246.7" stroke="#111" stroke-width="0.8" />
<path d="M109,247.3 L160,247.3 Q164.6,247.3 164.6,252 L164.6,297 Q164.6,301.4 160,301.4 L109,301.4 Q103.8,301.4 103.8,296 L103.8,252 Q103.8,247.3 109,247.3 Z" fill="none" stroke="#111" stroke-width="1.1" />
<path d="M113,249 L158,249 Q162,249 162,253 L162,295 Q162,299.5 158,299.5 L113,299.5 Q109.8,299.5 109.8,295 L109.8,253 Q109.8,249 113,249 Z" fill="none" stroke="#111" stroke-width="0.8" />
<circle cx="137.2" cy="274.0" r="17.0" fill="none" stroke="#111" stroke-width="1.0"/>
<circle cx="137.2" cy="274.0" r="15.2" fill="none" stroke="#111" stroke-width="0.8"/>
<path d="M124.2,254.6 L121.3,259.6 L115.5,259.6 L112.6,254.6 L115.5,249.6 L121.3,249.6 Z" fill="none" stroke="#111" stroke-width="0.8" />
<path d="M162.5,254.6 L159.6,259.6 L153.8,259.6 L150.9,254.6 L153.8,249.6 L159.6,249.6 Z" fill="none" stroke="#111" stroke-width="0.8" />
<path d="M124.2,293.5 L121.3,298.5 L115.5,298.5 L112.6,293.5 L115.5,288.5 L121.3,288.5 Z" fill="none" stroke="#111" stroke-width="0.8" />
<path d="M162.5,293.5 L159.6,298.5 L153.8,298.5 L150.9,293.5 L153.8,288.5 L159.6,288.5 Z" fill="none" stroke="#111" stroke-width="0.8" />
<circle cx="98.9" cy="282.8" r="2.5" fill="none" stroke="#111" stroke-width="0.8"/>
<path d="M165.8,247.8 Q180.6,248 180.6,260 L180.6,296 Q180.6,303.4 168,303.4" fill="none" stroke="#111" stroke-width="1.1" />
<path d="M170.6,316.6 Q179.6,316 179.6,306" fill="none" stroke="#111" stroke-width="1.1" />
<line x1="180.4" y1="186.0" x2="180.4" y2="302.0" stroke="#111" stroke-width="1.1" />
<line x1="192.4" y1="186.0" x2="192.4" y2="200.0" stroke="#111" stroke-width="1.1" />
<line x1="171.0" y1="208.3" x2="193.0" y2="208.3" stroke="#111" stroke-width="1.1" />
<line x1="171.0" y1="238.3" x2="186.0" y2="238.3" stroke="#111" stroke-width="1.1" />
<line x1="171.0" y1="186.0" x2="221.0" y2="186.0" stroke="#111" stroke-width="1.1" />
<path d="M192.4,187.7 L217.6,187.7" fill="none" stroke="#111" stroke-width="1.1" />
<path d="M186.4,200.6 L193.3,207.5 Q195,215 193.3,225 L193.3,284.6 Q191,292 198,297 Q205,301.3 218.8,301.3" fill="none" stroke="#111" stroke-width="1.1" />
<path d="M195.5,205 Q208,200 217.6,202" fill="none" stroke="#111" stroke-width="0.8" />
<path d="M195.5,210 Q208,206 217.6,208" fill="none" stroke="#111" stroke-width="0.8" />
<path d="M197,290 Q206,297 217,296" fill="none" stroke="#111" stroke-width="0.8" />
<line x1="217.6" y1="186.0" x2="217.6" y2="318.0" stroke="#111" stroke-width="1.9" />
<line x1="221.2" y1="186.0" x2="221.2" y2="318.0" stroke="#111" stroke-width="1.1" />
<rect x="186.4" y="232.3" width="6.0" height="28.3" rx="2" fill="none" stroke="#111" stroke-width="1.4"/>
<rect x="203.2" y="302.5" width="14.4" height="15.5" rx="0" fill="none" stroke="#111" stroke-width="1.1"/>
<line x1="208.0" y1="302.5" x2="208.0" y2="318.0" stroke="#111" stroke-width="0.8" />
<line x1="203.2" y1="309.0" x2="217.6" y2="309.0" stroke="#111" stroke-width="0.8" />
<rect x="203.2" y="169.2" width="8.4" height="7.2" rx="0" fill="none" stroke="#111" stroke-width="1.1"/>
<rect x="211.6" y="168.0" width="18.0" height="8.5" rx="0" fill="none" stroke="#111" stroke-width="1.1"/>
<rect x="229.6" y="162.0" width="9.6" height="7.2" rx="0" fill="none" stroke="#111" stroke-width="1.1"/>
<path d="M239,179 Q237,160 246,160 Q254,160 253,175" fill="none" stroke="#111" stroke-width="1.1" />
<path d="M242,176 Q241,164 246,164 Q251,164 250,175" fill="none" stroke="#111" stroke-width="0.8" />
<rect x="245.3" y="172.8" width="7.2" height="19.2" rx="0" fill="none" stroke="#111" stroke-width="1.1"/>
<line x1="245.3" y1="179.0" x2="252.5" y2="179.0" stroke="#111" stroke-width="0.8" />
<line x1="245.3" y1="185.0" x2="252.5" y2="185.0" stroke="#111" stroke-width="0.8" />
<line x1="229.0" y1="187.0" x2="229.0" y2="222.0" stroke="#111" stroke-width="1.1" />
<line x1="237.7" y1="187.0" x2="237.7" y2="221.0" stroke="#111" stroke-width="1.1" />
<line x1="245.6" y1="192.0" x2="245.6" y2="222.0" stroke="#111" stroke-width="0.8" />
<line x1="221.2" y1="197.0" x2="254.6" y2="197.0" stroke="#111" stroke-width="0.8" />
<line x1="221.2" y1="215.0" x2="254.6" y2="215.0" stroke="#111" stroke-width="0.8" />
<circle cx="237.5" cy="231.0" r="10.0" fill="none" stroke="#111" stroke-width="1.1"/>
<path d="M223,222 Q226,240 222.4,262 Q219,285 224,300 Q226,315 225,337" fill="none" stroke="#111" stroke-width="1.9" />
<path d="M230,241 Q233,252 230,266 Q227,282 231,291 Q236,297 248,298.5 L290,298.5" fill="none" stroke="#111" stroke-width="1.1" />
<path d="M243,240 Q246,254 242,268 Q239,281 242,288 Q247,292 252,293" fill="none" stroke="#111" stroke-width="1.1" />
<path d="M232,284 L242,284" fill="none" stroke="#111" stroke-width="0.8" />
<path d="M232,288 L243,289" fill="none" stroke="#111" stroke-width="0.8" />
<line x1="232.0" y1="303.0" x2="232.0" y2="337.0" stroke="#111" stroke-width="0.8" />
<line x1="240.5" y1="303.0" x2="240.5" y2="337.0" stroke="#111" stroke-width="0.8" />
<line x1="248.9" y1="298.0" x2="248.9" y2="348.0" stroke="#111" stroke-width="1.1" />
<line x1="240.0" y1="258.3" x2="290.5" y2="258.3" stroke="#111" stroke-width="1.1" />
<rect x="225.4" y="337.0" width="23.5" height="10.5" rx="0" fill="none" stroke="#111" stroke-width="1.1"/>
<line x1="225.4" y1="337.0" x2="248.9" y2="337.0" stroke="#111" stroke-width="1.1" />
<line x1="237.3" y1="347.0" x2="237.3" y2="352.0" stroke="#111" stroke-width="1.1" />
<line x1="290.5" y1="224.6" x2="290.5" y2="294.4" stroke="#111" stroke-width="1.1" />
<path d="M290.5,294.4 Q290.5,299.6 284.4,299.6 L252,299.6" fill="none" stroke="#111" stroke-width="1.1" />
<line x1="394.7" y1="225.0" x2="394.7" y2="287.5" stroke="#111" stroke-width="1.1" />
<path d="M308.6,316.8 Q330,326 360.2,328 L401.6,327.5" fill="none" stroke="#111" stroke-width="1.1" />
<line x1="370.6" y1="327.0" x2="381.8" y2="229.0" stroke="#111" stroke-width="0.8" />
<path d="M304,258 Q306,252.2 314,252.2 L335,249 Q341.3,249 341.3,256 L341.3,290 Q341.3,296 335,296 L306,296 Q299,296 299,290 L299,266 Z" fill="none" stroke="#111" stroke-width="1.1" />
<path d="M306,264 L306,290" fill="none" stroke="#111" stroke-width="0.8" />
<path d="M333,256 L333,290" fill="none" stroke="#111" stroke-width="0.8" />
<rect x="304.0" y="278.0" width="32.0" height="6.0" rx="0" fill="none" stroke="#111" stroke-width="1.1"/>
<circle cx="308.0" cy="287.0" r="2.2" fill="#333" stroke="#111" stroke-width="1.2"/>
<circle cx="331.0" cy="287.0" r="2.2" fill="#333" stroke="#111" stroke-width="1.2"/>
<path d="M306,296 Q320,286 335,296" fill="none" stroke="#111" stroke-width="1.1" />
<path d="M274,302.1 L381.8,302.1 Q392,302 394.7,287.5" fill="none" stroke="#111" stroke-width="1.1" />
<path d="M274,313.3 L381.8,313.3 Q398,313 401,296 L401,288" fill="none" stroke="#111" stroke-width="1.1" />
<rect x="274.0" y="303.0" width="10.0" height="9.5" rx="0" fill="none" stroke="#111" stroke-width="1.1"/>
<rect x="284.4" y="301.0" width="11.2" height="13.5" rx="0" fill="none" stroke="#111" stroke-width="1.1"/>
<rect x="289.3" y="301.0" width="6.3" height="13.5" rx="0" fill="#1a1a1a" stroke="#111" stroke-width="0"/>
<rect x="310.0" y="300.0" width="20.0" height="16.0" rx="0" fill="none" stroke="#111" stroke-width="1.1"/>
<line x1="336.0" y1="302.0" x2="336.0" y2="313.3" stroke="#111" stroke-width="0.8" />
<line x1="343.0" y1="302.0" x2="343.0" y2="313.3" stroke="#111" stroke-width="0.8" />
<path d="M394.7,287.5 Q401,284 405,288" fill="none" stroke="#111" stroke-width="0.8" />
<line x1="290.5" y1="228.0" x2="394.7" y2="228.0" stroke="#111" stroke-width="0.8" />
<path d="M400.6,289.3 L400.6,211 Q400.6,189.5 417,189.5 Q441.7,189.5 441.7,217.3" fill="none" stroke="#111" stroke-width="1.1" />
<path d="M405.7,289.3 L405.7,212 Q405.7,199.8 417,199.8 Q431.4,199.8 431.4,217" fill="none" stroke="#111" stroke-width="1.1" />
<path d="M400.6,289.3 Q400,312 380,312" fill="none" stroke="#111" stroke-width="1.1" />
<path d="M405.7,289.3 Q405,304 394,306" fill="none" stroke="#111" stroke-width="0.8" />
<path d="M419,221 Q419,215 437,215 Q455,215 455,221 L455,232 Q455,237 437,237 Q419,237 419,232 Z" fill="none" stroke="#111" stroke-width="1.1" />
<path d="M419,228 Q437,232 455,228" fill="none" stroke="#111" stroke-width="0.8" />
<circle cx="437.0" cy="222.0" r="2.2" fill="#333" stroke="#111" stroke-width="1.0"/>
<circle cx="425.0" cy="224.0" r="1.2" fill="#333" stroke="#111" stroke-width="0.6"/>
<circle cx="449.0" cy="224.0" r="1.2" fill="#333" stroke="#111" stroke-width="0.6"/>
<path d="M431.4,238 L431.4,332.6 L442.8,332.6 L442.8,238" fill="none" stroke="#111" stroke-width="1.1" />
<line x1="431.4" y1="264.0" x2="441.7" y2="264.0" stroke="#111" stroke-width="0.8" />
<line x1="431.4" y1="270.0" x2="441.7" y2="270.0" stroke="#111" stroke-width="0.8" />
<circle cx="441.7" cy="194.7" r="8.0" fill="none" stroke="#111" stroke-width="1.1"/>
<circle cx="441.7" cy="194.7" r="5.5" fill="none" stroke="#111" stroke-width="0.8"/>
<line x1="447.9" y1="205.0" x2="447.9" y2="320.0" stroke="#111" stroke-width="1.1" />
<line x1="411.0" y1="205.0" x2="468.0" y2="205.0" stroke="#111" stroke-width="0.8" />
<path d="M398.5,337 L398.5,305 Q398.5,297.6 414,297.6 Q430.4,297.6 430.4,305 L430.4,337" fill="none" stroke="#111" stroke-width="1.1" />
<rect x="402.2" y="337.0" width="22.0" height="10.0" rx="0" fill="none" stroke="#111" stroke-width="1.1"/>
<line x1="410.9" y1="302.0" x2="410.9" y2="337.0" stroke="#111" stroke-width="1.1" />
<line x1="418.0" y1="302.0" x2="418.0" y2="337.0" stroke="#111" stroke-width="1.1" />
<path d="M404.7,337 L404.7,306 Q404.7,301.7 414,301.7 Q424.2,301.7 424.2,306 L424.2,337" fill="none" stroke="#111" stroke-width="1.1" />
<path d="M386,326.4 Q390,320 398.5,322" fill="none" stroke="#111" stroke-width="0.8" />
<path d="M442.8,322 Q452,318 456,326" fill="none" stroke="#111" stroke-width="0.8" />
<line x1="380.0" y1="328.4" x2="468.6" y2="328.4" stroke="#111" stroke-width="1.1" />
<line x1="400.0" y1="210.0" x2="400.0" y2="330.0" stroke="#111" stroke-width="0.8" />
<line x1="468.6" y1="188.3" x2="532.7" y2="188.3" stroke="#111" stroke-width="1.1" />
<line x1="468.6" y1="188.3" x2="468.6" y2="214.0" stroke="#111" stroke-width="1.1" />
<line x1="468.6" y1="282.0" x2="468.6" y2="339.3" stroke="#111" stroke-width="1.1" />
<line x1="532.7" y1="188.3" x2="532.7" y2="339.3" stroke="#111" stroke-width="1.1" />
<line x1="522.4" y1="188.3" x2="522.4" y2="339.3" stroke="#111" stroke-width="1.1" />
<line x1="468.6" y1="339.3" x2="532.7" y2="339.3" stroke="#111" stroke-width="1.1" />
<path d="M452,210 L468.6,188.3" fill="none" stroke="#111" stroke-width="0.8" />
<path d="M447,330 L468.6,339.3" fill="none" stroke="#111" stroke-width="0.8" />
<rect x="532.7" y="193.0" width="7.3" height="11.0" rx="0" fill="none" stroke="#111" stroke-width="1.1"/>
<rect x="532.7" y="209.5" width="7.3" height="11.0" rx="0" fill="none" stroke="#111" stroke-width="1.1"/>
<rect x="532.7" y="226.0" width="7.3" height="11.0" rx="0" fill="none" stroke="#111" stroke-width="1.1"/>
<rect x="532.7" y="242.5" width="7.3" height="11.0" rx="0" fill="none" stroke="#111" stroke-width="1.1"/>
<rect x="532.7" y="259.0" width="7.3" height="11.0" rx="0" fill="none" stroke="#111" stroke-width="1.1"/>
<rect x="532.7" y="275.5" width="7.3" height="11.0" rx="0" fill="none" stroke="#111" stroke-width="1.1"/>
<rect x="532.7" y="292.0" width="7.3" height="11.0" rx="0" fill="none" stroke="#111" stroke-width="1.1"/>
<rect x="532.7" y="308.5" width="7.3" height="11.0" rx="0" fill="none" stroke="#111" stroke-width="1.1"/>
<rect x="532.7" y="325.0" width="7.3" height="11.0" rx="0" fill="none" stroke="#111" stroke-width="1.1"/>
<path d="M540,205 Q556,264 540,322" fill="none" stroke="#111" stroke-width="1.1" />
<path d="M461,214.6 L514,214.6 Q520.1,214.6 520.1,221 L520.1,275 Q520.1,281 514,281 L461,281 Q455.4,281 455.4,275 L455.4,221 Q455.4,214.6 461,214.6 Z" fill="none" stroke="#111" stroke-width="1.1" />
<path d="M458,212 L517,212 Q523,212 523,218 L523,278 Q523,284 517,284 L458,284 Q452,284 452,278 L452,218 Q452,212 458,212 Z" fill="none" stroke="#111" stroke-width="0.8" />
<circle cx="487.6" cy="247.8" r="21.7" fill="none" stroke="#111" stroke-width="1.1"/>
<circle cx="487.6" cy="247.8" r="19.5" fill="none" stroke="#111" stroke-width="0.8"/>
<circle cx="464.0" cy="225.0" r="6.4" fill="none" stroke="#111" stroke-width="1.1"/>
<circle cx="511.0" cy="225.0" r="6.4" fill="none" stroke="#111" stroke-width="1.1"/>
<circle cx="464.0" cy="272.0" r="6.4" fill="none" stroke="#111" stroke-width="1.1"/>
<circle cx="511.0" cy="272.0" r="6.4" fill="none" stroke="#111" stroke-width="1.1"/>
<line x1="487.6" y1="210.0" x2="487.6" y2="347.0" stroke="#111" stroke-width="1.1" />
<rect x="484.5" y="210.0" width="6.0" height="4.0" rx="0" fill="none" stroke="#111" stroke-width="0.8"/>
<rect x="484.5" y="340.0" width="6.0" height="4.0" rx="0" fill="none" stroke="#111" stroke-width="1.1"/>
<rect x="523.0" y="244.0" width="9.0" height="8.0" rx="0" fill="none" stroke="#111" stroke-width="1.1"/>
<line x1="648.5" y1="337.4" x2="829.0" y2="337.4" stroke="#111" stroke-width="1.1" />
<line x1="648.5" y1="347.5" x2="829.0" y2="347.5" stroke="#111" stroke-width="1.1" />
<line x1="648.5" y1="337.4" x2="648.5" y2="347.5" stroke="#111" stroke-width="1.1" />
<line x1="651.8" y1="337.4" x2="651.8" y2="347.5" stroke="#111" stroke-width="0.8" />
<line x1="829.0" y1="337.4" x2="829.0" y2="347.5" stroke="#111" stroke-width="1.1" />
<line x1="825.7" y1="337.4" x2="825.7" y2="347.5" stroke="#111" stroke-width="0.8" />
<rect x="699.2" y="317.5" width="8.2" height="19.9" rx="0" fill="none" stroke="#111" stroke-width="1.1"/>
<rect x="769.5" y="317.5" width="7.9" height="19.9" rx="0" fill="none" stroke="#111" stroke-width="1.1"/>
<path d="M673,189.8 L673,168.5 L716.9,168.5" fill="none" stroke="#111" stroke-width="1.1" />
<path d="M673,189.8 L667.7,199.4 L667.7,290.4 L677.8,301.7 L677.8,317.5 L830,317.5" fill="none" stroke="#111" stroke-width="1.9" />
<line x1="667.7" y1="249.4" x2="685.0" y2="249.4" stroke="#111" stroke-width="1.1" />
<circle cx="707.3" cy="175.4" r="2.7" fill="none" stroke="#111" stroke-width="0.8"/>
<circle cx="686.0" cy="183.6" r="3.0" fill="none" stroke="#111" stroke-width="0.8"/>
<circle cx="675.7" cy="224.0" r="2.7" fill="none" stroke="#111" stroke-width="0.8"/>
<circle cx="675.0" cy="255.7" r="2.8" fill="none" stroke="#111" stroke-width="0.8"/>
<circle cx="675.3" cy="286.9" r="2.8" fill="none" stroke="#111" stroke-width="0.8"/>
<circle cx="686.0" cy="298.2" r="3.0" fill="none" stroke="#111" stroke-width="0.8"/>
<circle cx="699.2" cy="305.7" r="2.8" fill="none" stroke="#111" stroke-width="0.8"/>
<circle cx="729.7" cy="311.2" r="3.0" fill="none" stroke="#111" stroke-width="0.8"/>
<circle cx="755.3" cy="210.4" r="2.7" fill="none" stroke="#111" stroke-width="0.8"/>
<circle cx="741.6" cy="223.5" r="2.7" fill="none" stroke="#111" stroke-width="0.8"/>
<circle cx="739.5" cy="250.7" r="2.7" fill="none" stroke="#111" stroke-width="0.8"/>
<circle cx="739.5" cy="271.5" r="2.7" fill="none" stroke="#111" stroke-width="0.8"/>
<circle cx="739.5" cy="295.0" r="2.7" fill="none" stroke="#111" stroke-width="0.8"/>
<circle cx="754.6" cy="311.2" r="2.7" fill="none" stroke="#111" stroke-width="0.8"/>
<circle cx="766.2" cy="309.8" r="3.5" fill="none" stroke="#111" stroke-width="0.8"/>
<circle cx="777.9" cy="311.2" r="2.7" fill="none" stroke="#111" stroke-width="0.8"/>
<circle cx="793.3" cy="271.7" r="2.7" fill="none" stroke="#111" stroke-width="0.8"/>
<circle cx="793.3" cy="295.3" r="2.7" fill="none" stroke="#111" stroke-width="0.8"/>
<circle cx="793.3" cy="248.6" r="2.7" fill="none" stroke="#111" stroke-width="0.8"/>
<circle cx="812.8" cy="252.8" r="2.7" fill="none" stroke="#111" stroke-width="0.8"/>
<circle cx="812.8" cy="271.7" r="2.7" fill="none" stroke="#111" stroke-width="0.8"/>
<circle cx="812.8" cy="295.3" r="2.7" fill="none" stroke="#111" stroke-width="0.8"/>
<circle cx="766.8" cy="234.5" r="3.0" fill="none" stroke="#111" stroke-width="0.8"/>
<circle cx="777.6" cy="210.4" r="2.7" fill="none" stroke="#111" stroke-width="0.8"/>
<circle cx="791.6" cy="226.5" r="2.7" fill="none" stroke="#111" stroke-width="0.8"/>
<path d="M684,246 L684,275 Q684,303 712,303 L735.7,303" fill="none" stroke="#111" stroke-width="1.9" />
<path d="M688,246 L688,273 Q688,299 713,299 L735,299" fill="none" stroke="#111" stroke-width="0.8" />
<rect x="686.5" y="247.0" width="8.0" height="40.0" rx="3" fill="none" stroke="#111" stroke-width="1.4"/>
<circle cx="690.5" cy="252.0" r="3.5" fill="none" stroke="#111" stroke-width="1.6"/>
<circle cx="690.5" cy="275.0" r="3.5" fill="none" stroke="#111" stroke-width="1.6"/>
<circle cx="706.0" cy="291.5" r="3.5" fill="none" stroke="#111" stroke-width="1.6"/>
<path d="M697,281 L735,281" fill="none" stroke="#111" stroke-width="1.3" />
<path d="M700,276 L735,276" fill="none" stroke="#111" stroke-width="0.8" />
<path d="M738,238 Q734,260 733,290" fill="none" stroke="#111" stroke-width="1.1" />
<path d="M742,238 Q738,262 737,290" fill="none" stroke="#111" stroke-width="1.1" />
<rect x="727.0" y="292.0" width="8.0" height="8.0" rx="0" fill="none" stroke="#111" stroke-width="1.1"/>
<rect x="666.8" y="227.6" width="18.5" height="21.3" rx="0" fill="none" stroke="#111" stroke-width="1.1"/>
<rect x="662.6" y="234.0" width="5.2" height="8.3" rx="0" fill="none" stroke="#111" stroke-width="1.1"/>
<line x1="647.6" y1="218.0" x2="666.8" y2="218.0" stroke="#111" stroke-width="0.8" />
<path d="M718.8,169.4 L718.8,156 Q718.8,153.2 721.5,153.2 L743,153.2" fill="none" stroke="#111" stroke-width="1.3" />
<line x1="722.0" y1="156.0" x2="722.0" y2="169.0" stroke="#111" stroke-width="0.8" />
<rect x="710.0" y="198.0" width="24.0" height="27.5" rx="0" fill="none" stroke="#111" stroke-width="1.1"/>
<circle cx="714.2" cy="206.3" r="1.9" fill="#1a1a1a" stroke="#111" stroke-width="0.5"/>
<circle cx="729.8" cy="206.3" r="1.9" fill="#1a1a1a" stroke="#111" stroke-width="0.5"/>
<circle cx="714.2" cy="221.4" r="1.9" fill="#1a1a1a" stroke="#111" stroke-width="0.5"/>
<circle cx="729.8" cy="221.4" r="1.9" fill="#1a1a1a" stroke="#111" stroke-width="0.5"/>
<path d="M738.1,239.3 L732.0,242.8 L725.9,239.3 L725.9,232.3 L732.0,228.8 L738.1,232.3 Z" fill="none" stroke="#111" stroke-width="1.1" />
<circle cx="732.0" cy="235.8" r="5.0" fill="none" stroke="#111" stroke-width="1.4"/>
<circle cx="732.0" cy="235.8" r="3.3" fill="none" stroke="#111" stroke-width="1.1"/>
<path d="M720,225.5 L720,228 Q722,231 726,231" fill="none" stroke="#111" stroke-width="1.1" />
<rect x="702.5" y="184.6" width="16.3" height="6.1" rx="0" fill="none" stroke="#111" stroke-width="1.1"/>
<rect x="724.8" y="184.6" width="19.3" height="6.1" rx="0" fill="none" stroke="#111" stroke-width="1.1"/>
<rect x="699.5" y="190.7" width="44.6" height="10.1" rx="0" fill="none" stroke="#111" stroke-width="1.3"/>
<line x1="705.0" y1="190.7" x2="705.0" y2="200.8" stroke="#111" stroke-width="1.1" />
<line x1="738.0" y1="190.7" x2="738.0" y2="200.8" stroke="#111" stroke-width="1.1" />
<rect x="718.5" y="194.0" width="7.0" height="8.0" rx="0" fill="none" stroke="#111" stroke-width="1.1"/>
<rect x="719.5" y="188.0" width="5.0" height="6.0" rx="0" fill="none" stroke="#111" stroke-width="0.8"/>
<rect x="704.5" y="181.8" width="6.0" height="2.8" rx="0" fill="none" stroke="#111" stroke-width="1.1"/>
<rect x="734.0" y="181.8" width="7.0" height="2.8" rx="0" fill="none" stroke="#111" stroke-width="1.1"/>
<rect x="719.0" y="191.2" width="92.0" height="11.7" rx="0" fill="none" stroke="#111" stroke-width="1.1"/>
<line x1="726.0" y1="191.2" x2="726.0" y2="202.9" stroke="#111" stroke-width="0.8" />
<line x1="733.0" y1="191.2" x2="733.0" y2="202.9" stroke="#111" stroke-width="0.8" />
<line x1="741.0" y1="191.2" x2="741.0" y2="202.9" stroke="#111" stroke-width="0.8" />
<line x1="749.0" y1="191.2" x2="749.0" y2="202.9" stroke="#111" stroke-width="0.8" />
<line x1="757.0" y1="191.2" x2="757.0" y2="202.9" stroke="#111" stroke-width="0.8" />
<line x1="765.0" y1="191.2" x2="765.0" y2="202.9" stroke="#111" stroke-width="0.8" />
<line x1="772.0" y1="191.2" x2="772.0" y2="202.9" stroke="#111" stroke-width="0.8" />
<line x1="780.0" y1="191.2" x2="780.0" y2="202.9" stroke="#111" stroke-width="0.8" />
<line x1="788.0" y1="191.2" x2="788.0" y2="202.9" stroke="#111" stroke-width="0.8" />
<line x1="796.0" y1="191.2" x2="796.0" y2="202.9" stroke="#111" stroke-width="0.8" />
<line x1="804.0" y1="191.2" x2="804.0" y2="202.9" stroke="#111" stroke-width="0.8" />
<line x1="712.0" y1="202.9" x2="797.7" y2="202.9" stroke="#111" stroke-width="1.9" />
<rect x="740.0" y="168.2" width="17.0" height="8.0" rx="0" fill="#1a1a1a" stroke="#111" stroke-width="0"/>
<rect x="738.9" y="175.5" width="34.0" height="12.5" rx="0" fill="#1a1a1a" stroke="#111" stroke-width="0"/>
<rect x="742.0" y="177.3" width="3.0" height="8.5" rx="0" fill="#fff" stroke="#111" stroke-width="0"/>
<rect x="747.4" y="176.2" width="8.5" height="10.3" rx="0" fill="#fff" stroke="#111" stroke-width="0"/>
<rect x="750.0" y="179.0" width="3.0" height="4.0" rx="0" fill="#1a1a1a" stroke="#111" stroke-width="0"/>
<rect x="763.4" y="177.3" width="9.0" height="11.5" rx="0" fill="#fff" stroke="#111" stroke-width="0.9"/>
<rect x="765.0" y="179.0" width="6.0" height="9.0" rx="0" fill="#1a1a1a" stroke="#111" stroke-width="0"/>
<rect x="790.6" y="168.9" width="19.4" height="7.0" rx="0" fill="#1a1a1a" stroke="#111" stroke-width="0"/>
<rect x="774.0" y="175.5" width="36.6" height="12.5" rx="0" fill="#1a1a1a" stroke="#111" stroke-width="0"/>
<rect x="781.5" y="177.3" width="15.5" height="11.5" rx="0" fill="#fff" stroke="#111" stroke-width="0.9"/>
<rect x="784.5" y="179.5" width="1.5" height="8.0" rx="0" fill="#1a1a1a" stroke="#111" stroke-width="0"/>
<rect x="787.5" y="179.5" width="1.5" height="8.0" rx="0" fill="#1a1a1a" stroke="#111" stroke-width="0"/>
<rect x="790.5" y="179.5" width="1.5" height="8.0" rx="0" fill="#1a1a1a" stroke="#111" stroke-width="0"/>
<rect x="775.5" y="177.0" width="3.0" height="9.5" rx="0" fill="#fff" stroke="#111" stroke-width="0"/>
<rect x="799.7" y="177.0" width="2.0" height="9.5" rx="0" fill="#fff" stroke="#111" stroke-width="0"/>
<rect x="806.4" y="177.0" width="2.4" height="9.5" rx="0" fill="#fff" stroke="#111" stroke-width="0"/>
<line x1="738.0" y1="168.5" x2="738.0" y2="188.0" stroke="#111" stroke-width="1.1" />
<path d="M735.7,253 L735.7,224 Q740,203 766.8,202.5 Q797,203 798.2,222 L798.2,246" fill="none" stroke="#111" stroke-width="1.2" />
<rect x="801.0" y="206.0" width="6.0" height="38.0" rx="0" fill="none" stroke="#111" stroke-width="0.8"/>
<circle cx="806.0" cy="240.0" r="3.0" fill="none" stroke="#111" stroke-width="1.1"/>
<line x1="812.8" y1="203.0" x2="814.0" y2="215.0" stroke="#111" stroke-width="0.8" />
<path d="M747,253.8 L787,253.8 Q799.2,253.8 799.2,266 L799.2,305.5 Q799.2,317.7 787,317.7 L747,317.7 Q734.6,317.7 734.6,305.5 L734.6,266 Q734.6,253.8 747,253.8 Z" fill="none" stroke="#111" stroke-width="1.9" />
<path d="M749,256.5 L785,256.5 Q796.5,256.5 796.5,268 L796.5,303.5 Q796.5,315 785,315 L749,315 Q737.3,315 737.3,303.5 L737.3,268 Q737.3,256.5 749,256.5 Z" fill="none" stroke="#111" stroke-width="0.8" />
<path d="M753,265.7 L780,265.7 Q788,265.7 788,273.7 L788,297.2 Q788,305.2 780,305.2 L753,305.2 Q745.1,305.2 745.1,297.2 L745.1,273.7 Q745.1,265.7 753,265.7 Z" fill="none" stroke="#111" stroke-width="1.0" />
<path d="M755,268.5 L778,268.5 Q785,268.5 785,275.5 L785,295.5 Q785,302.5 778,302.5 L755,302.5 Q748,302.5 748,295.5 L748,275.5 Q748,268.5 755,268.5 Z" fill="none" stroke="#111" stroke-width="0.8" />
<rect x="750.4" y="271.0" width="32.9" height="28.9" rx="0" fill="none" stroke="#111" stroke-width="1.1"/>
<path d="M798.9,246.3 L823.5,246.3 L823.5,301.8 L806.3,301.8" fill="none" stroke="#111" stroke-width="1.2" />
<line x1="818.6" y1="254.0" x2="818.6" y2="298.0" stroke="#111" stroke-width="1.8" />
<rect x="814.5" y="258.0" width="3.0" height="40.0" rx="0" fill="none" stroke="#111" stroke-width="0.8"/>
<rect x="820.0" y="281.0" width="3.0" height="5.0" rx="0" fill="none" stroke="#111" stroke-width="0.8"/>
<rect x="824.0" y="251.4" width="4.0" height="45.2" rx="0" fill="none" stroke="#111" stroke-width="1.1"/>
<rect x="828.0" y="246.3" width="14.3" height="55.5" rx="0" fill="none" stroke="#111" stroke-width="1.4"/>
<line x1="828.0" y1="257.0" x2="842.3" y2="257.0" stroke="#111" stroke-width="0.8" />
<line x1="828.0" y1="291.0" x2="842.3" y2="291.0" stroke="#111" stroke-width="0.8" />
<rect x="842.3" y="249.0" width="5.2" height="11.6" rx="0" fill="none" stroke="#111" stroke-width="1.1"/>
<rect x="842.3" y="288.6" width="5.2" height="10.9" rx="0" fill="none" stroke="#111" stroke-width="1.1"/>
<line x1="845.8" y1="260.6" x2="845.8" y2="288.6" stroke="#111" stroke-width="1.6" />
<rect x="832.6" y="228.0" width="6.9" height="18.3" rx="0" fill="none" stroke="#111" stroke-width="1.1"/>
<line x1="814.8" y1="225.0" x2="814.8" y2="246.0" stroke="#111" stroke-width="1.1" />
<path d="M797.7,203 L797.7,240 Q797.7,246 803,246 L812.8,246 L812.8,203" fill="none" stroke="#111" stroke-width="1.8" />
<path d="M743.8,100.5 L723.7,123.3 Q722,126 725.5,128 L789.4,172" fill="none" stroke="#111" stroke-width="1.1" />
<path d="M746,104 L727,125 L790,169" fill="none" stroke="#111" stroke-width="0.8" />
<path d="M743.8,100.5 L873.3,201.7" fill="none" stroke="#111" stroke-width="2.0" />
<path d="M747,100 L874,199" fill="none" stroke="#111" stroke-width="0.8" />
<path d="M750.2,103.2 L775.7,95.6 L868.7,168 L871.4,199" fill="none" stroke="#111" stroke-width="1.1" />
<path d="M752,104.5 L776,98 L866,168" fill="none" stroke="#111" stroke-width="0.8" />
<circle cx="743.8" cy="100.5" r="2.0" fill="#1a1a1a" stroke="#111" stroke-width="1.1"/>
<path d="M809.4,165.1 Q800,170 800,180 L813.5,219.8 L860,214.7 L874.3,201.6" fill="none" stroke="#111" stroke-width="1.1" />
<path d="M813,168 Q830,160 845,170 L870,190" fill="none" stroke="#111" stroke-width="0.8" />
<circle cx="845.9" cy="197.5" r="9.1" fill="none" stroke="#111" stroke-width="1.1"/>
<line x1="842.5" y1="194.5" x2="849.0" y2="200.5" stroke="#111" stroke-width="1.4" />
<path d="M835,188 Q845,181 860,190 Q866,200 858,208 Q845,214 835,205" fill="none" stroke="#111" stroke-width="0.8" />
<path d="M743.6,150 L781,175.2" fill="none" stroke="#111" stroke-width="1.1" />
<path d="M743.6,150 L749,145 L758,149" fill="none" stroke="#111" stroke-width="1.1" />
<path d="M812,176 Q822,171 826,177 Q824,183 812,182" fill="none" stroke="#111" stroke-width="1.1" />
<path d="M812,186 L835,189 Q840,192 836,196 L812,193" fill="none" stroke="#111" stroke-width="1.1" />
<path d="M718,179 C690,181 660,195 653,222 C649,236 655,242 664,238.5" fill="none" stroke="#111" stroke-width="3.4"/>
<path d="M718,179 C690,181 660,195 653,222 C649,236 655,242 664,238.5" fill="none" stroke="#fff" stroke-width="1.7999999999999998"/>
<path d="M702,186 C672,194 651,222 649.5,262 C648,300 672,325 701,333" fill="none" stroke="#111" stroke-width="3.4"/>
<path d="M702,186 C672,194 651,222 649.5,262 C648,300 672,325 701,333" fill="none" stroke="#fff" stroke-width="1.7999999999999998"/>
<path d="M704,190.5 C677,198 656,226 655,262 C654,297 675,320 702,327.5" fill="none" stroke="#111" stroke-width="3.4"/>
<path d="M704,190.5 C677,198 656,226 655,262 C654,297 675,320 702,327.5" fill="none" stroke="#fff" stroke-width="1.7999999999999998"/>
<path d="M696,191 C694,235 702,272 729,297" fill="none" stroke="#111" stroke-width="3.4"/>
<path d="M696,191 C694,235 702,272 729,297" fill="none" stroke="#fff" stroke-width="1.7999999999999998"/>
<path d="M722.4,188 L722.4,172 Q723,157 741,157 Q768,158 786,168" fill="none" stroke="#111" stroke-width="3.4"/>
<path d="M722.4,188 L722.4,172 Q723,157 741,157 Q768,158 786,168" fill="none" stroke="#fff" stroke-width="1.7999999999999998"/>
<rect x="93.6" y="603.9" width="46.7" height="45.3" rx="4" fill="none" stroke="#111" stroke-width="1.1"/>
<circle cx="117.0" cy="627.3" r="19.2" fill="none" stroke="#111" stroke-width="1.1"/>
<circle cx="101.2" cy="610.8" r="3.6" fill="none" stroke="#111" stroke-width="1.3"/>
<circle cx="101.2" cy="610.8" r="1.6" fill="none" stroke="#111" stroke-width="0.7"/>
<circle cx="134.1" cy="610.8" r="3.6" fill="none" stroke="#111" stroke-width="1.3"/>
<circle cx="134.1" cy="610.8" r="1.6" fill="none" stroke="#111" stroke-width="0.7"/>
<circle cx="134.1" cy="643.0" r="3.6" fill="none" stroke="#111" stroke-width="1.3"/>
<circle cx="134.1" cy="643.0" r="1.6" fill="none" stroke="#111" stroke-width="0.7"/>
<circle cx="101.2" cy="643.0" r="3.6" fill="none" stroke="#111" stroke-width="0.6"/>
<circle cx="101.2" cy="643.0" r="2.0" fill="none" stroke="#111" stroke-width="0.5"/>
<circle cx="117.0" cy="612.2" r="2.1" fill="#555" stroke="#111" stroke-width="0.8"/>
<circle cx="102.6" cy="627.3" r="2.1" fill="#555" stroke="#111" stroke-width="0.8"/>
<circle cx="131.4" cy="627.3" r="2.1" fill="#555" stroke="#111" stroke-width="0.8"/>
<circle cx="117.0" cy="641.7" r="2.1" fill="#555" stroke="#111" stroke-width="0.8"/>
<circle cx="117.0" cy="627.3" r="4.0" fill="none" stroke="#111" stroke-width="1.3"/>
<circle cx="117.0" cy="627.3" r="1.8" fill="none" stroke="#111" stroke-width="0.7"/>
<line x1="117.0" y1="612.0" x2="117.0" y2="627.0" stroke="#111" stroke-width="0.7" />
<line x1="106.0" y1="638.0" x2="110.0" y2="638.0" stroke="#111" stroke-width="0.7" />
<rect x="109.4" y="594.3" width="5.5" height="8.3" rx="0" fill="none" stroke="#111" stroke-width="1.1"/>
<rect x="80.3" y="614.9" width="12.0" height="24.7" rx="0" fill="none" stroke="#111" stroke-width="1.1"/>
<circle cx="86.1" cy="626.6" r="4.0" fill="none" stroke="#111" stroke-width="1.2"/>
<circle cx="86.1" cy="626.6" r="2.0" fill="none" stroke="#111" stroke-width="0.6"/>
<rect x="61.4" y="632.8" width="10.3" height="9.6" rx="0" fill="none" stroke="#111" stroke-width="1.1"/>
<rect x="71.7" y="631.0" width="4.8" height="13.0" rx="0" fill="none" stroke="#111" stroke-width="1.1"/>
<rect x="76.5" y="632.0" width="4.0" height="12.0" rx="0" fill="none" stroke="#111" stroke-width="1.1"/>
<line x1="83.3" y1="640.0" x2="83.3" y2="723.8" stroke="#111" stroke-width="1.9" />
<line x1="91.6" y1="640.0" x2="91.6" y2="723.8" stroke="#111" stroke-width="1.9" />
<line x1="74.2" y1="643.0" x2="74.2" y2="722.0" stroke="#111" stroke-width="1.9" />
<rect x="68.6" y="642.8" width="5.0" height="5.6" rx="0" fill="none" stroke="#111" stroke-width="1.1"/>
<rect x="68.6" y="671.6" width="5.0" height="4.0" rx="0" fill="none" stroke="#111" stroke-width="1.1"/>
<rect x="68.6" y="694.0" width="5.0" height="6.5" rx="0" fill="none" stroke="#111" stroke-width="1.1"/>
<rect x="77.6" y="644.9" width="6.0" height="6.0" rx="0" fill="none" stroke="#111" stroke-width="1.1"/>
<rect x="77.6" y="655.7" width="6.0" height="7.2" rx="0" fill="none" stroke="#111" stroke-width="1.1"/>
<rect x="77.6" y="668.9" width="6.0" height="6.0" rx="0" fill="none" stroke="#111" stroke-width="1.1"/>
<rect x="77.6" y="680.9" width="6.0" height="6.0" rx="0" fill="none" stroke="#111" stroke-width="1.1"/>
<rect x="77.6" y="694.1" width="6.0" height="6.0" rx="0" fill="none" stroke="#111" stroke-width="1.1"/>
<rect x="77.6" y="714.5" width="6.0" height="6.0" rx="0" fill="none" stroke="#111" stroke-width="1.1"/>
<path d="M68.6,653 Q62,671 68.6,689" fill="none" stroke="#111" stroke-width="1.1" />
<path d="M70.5,656 Q66,671 70.5,686" fill="none" stroke="#111" stroke-width="0.8" />
<path d="M95,649.2 L95,704.5 L156.1,704.5" fill="none" stroke="#111" stroke-width="1.1" />
<path d="M140.3,643.7 L163,643.7 Q166,644 166,648 L166,704.5" fill="none" stroke="#111" stroke-width="1.1" />
<line x1="95.0" y1="704.5" x2="160.2" y2="704.5" stroke="#111" stroke-width="1.1" />
<line x1="95.0" y1="710.0" x2="160.2" y2="710.0" stroke="#111" stroke-width="1.1" />
<rect x="96.4" y="710.0" width="6.2" height="3.0" rx="0" fill="none" stroke="#111" stroke-width="1.1"/>
<rect x="120.4" y="710.0" width="8.3" height="3.0" rx="0" fill="none" stroke="#111" stroke-width="1.1"/>
<rect x="149.2" y="710.0" width="6.9" height="3.0" rx="0" fill="none" stroke="#111" stroke-width="1.1"/>
<polygon points="113.4,655.6 100.6,677.5 95.0,661.0" fill="#111" stroke="#111" stroke-width="9.9" stroke-linejoin="round"/>
<polygon points="113.4,655.6 100.6,677.5 95.0,661.0" fill="#fff" stroke="#fff" stroke-width="6.9" stroke-linejoin="round"/>
<line x1="95" y1="660.5" x2="107.4" y2="666.5" stroke="#111" stroke-width="9" stroke-linecap="round"/>
<line x1="95" y1="660.5" x2="107.4" y2="666.5" stroke="#fff" stroke-width="6.6" stroke-linecap="round"/>
<circle cx="113.4" cy="655.6" r="3.6" fill="#1a1a1a" stroke="#111" stroke-width="0"/>
<circle cx="113.4" cy="655.6" r="2.3" fill="#fff" stroke="#fff" stroke-width="0.6"/>
<circle cx="113.4" cy="655.6" r="1.0" fill="#555" stroke="#111" stroke-width="0.4"/>
<circle cx="100.6" cy="677.5" r="3.6" fill="#1a1a1a" stroke="#111" stroke-width="0"/>
<circle cx="100.6" cy="677.5" r="2.3" fill="#fff" stroke="#fff" stroke-width="0.6"/>
<circle cx="100.6" cy="677.5" r="1.0" fill="#555" stroke="#111" stroke-width="0.4"/>
<circle cx="107.4" cy="666.5" r="4.6" fill="none" stroke="#111" stroke-width="1.6"/>
<circle cx="107.4" cy="666.5" r="2.6" fill="none" stroke="#111" stroke-width="1.2"/>
<circle cx="107.4" cy="666.5" r="0.9" fill="#1a1a1a" stroke="#111" stroke-width="0"/>
<rect x="87.3" y="652.8" width="11" height="11" rx="3" fill="#1a1a1a" stroke="#1a1a1a" stroke-width="0.8" transform="rotate(35 92.8 658.3)"/>
<polygon points="124.8,668.4 149.0,657.8 131.0,652.0" fill="#111" stroke="#111" stroke-width="9.9" stroke-linejoin="round"/>
<polygon points="124.8,668.4 149.0,657.8 131.0,652.0" fill="#fff" stroke="#fff" stroke-width="6.9" stroke-linejoin="round"/>
<line x1="131" y1="652" x2="136.2" y2="663.3" stroke="#111" stroke-width="9" stroke-linecap="round"/>
<line x1="131" y1="652" x2="136.2" y2="663.3" stroke="#fff" stroke-width="6.6" stroke-linecap="round"/>
<rect x="125.3" y="642.2" width="9" height="13" rx="2" fill="#1a1a1a" stroke="#1a1a1a" stroke-width="0.8" transform="rotate(-25 129.8 648.7)"/>
<line x1="125.8" y1="644.5" x2="133.8" y2="641.5" stroke="#777" stroke-width="0.5" />
<line x1="125.8" y1="647.1" x2="133.8" y2="644.1" stroke="#777" stroke-width="0.5" />
<line x1="125.8" y1="649.7" x2="133.8" y2="646.7" stroke="#777" stroke-width="0.5" />
<line x1="125.8" y1="652.3" x2="133.8" y2="649.3" stroke="#777" stroke-width="0.5" />
<circle cx="124.8" cy="668.4" r="3.6" fill="#1a1a1a" stroke="#111" stroke-width="0"/>
<circle cx="124.8" cy="668.4" r="2.3" fill="#fff" stroke="#fff" stroke-width="0.6"/>
<circle cx="124.8" cy="668.4" r="1.0" fill="#555" stroke="#111" stroke-width="0.4"/>
<circle cx="149.0" cy="657.8" r="3.6" fill="#1a1a1a" stroke="#111" stroke-width="0"/>
<circle cx="149.0" cy="657.8" r="2.3" fill="#fff" stroke="#fff" stroke-width="0.6"/>
<circle cx="149.0" cy="657.8" r="1.0" fill="#555" stroke="#111" stroke-width="0.4"/>
<circle cx="136.2" cy="663.3" r="4.6" fill="none" stroke="#111" stroke-width="1.6"/>
<circle cx="136.2" cy="663.3" r="2.6" fill="none" stroke="#111" stroke-width="1.2"/>
<circle cx="136.2" cy="663.3" r="0.9" fill="#1a1a1a" stroke="#111" stroke-width="0"/>
<polygon points="99.6,693.5 126.2,693.5 112.4,686.5" fill="#111" stroke="#111" stroke-width="9.9" stroke-linejoin="round"/>
<polygon points="99.6,693.5 126.2,693.5 112.4,686.5" fill="#fff" stroke="#fff" stroke-width="6.9" stroke-linejoin="round"/>
<line x1="112.4" y1="693.5" x2="112.6" y2="703" stroke="#111" stroke-width="11" stroke-linecap="round"/>
<line x1="112.4" y1="693.5" x2="112.6" y2="703" stroke="#fff" stroke-width="8.6" stroke-linecap="round"/>
<rect x="107.3" y="703.2" width="11.2" height="12.5" rx="3" fill="#1a1a1a" stroke="#111" stroke-width="0"/>
<line x1="109.0" y1="706.0" x2="117.0" y2="706.0" stroke="#777" stroke-width="0.5" />
<line x1="109.0" y1="709.0" x2="117.0" y2="709.0" stroke="#777" stroke-width="0.5" />
<line x1="109.0" y1="712.0" x2="117.0" y2="712.0" stroke="#777" stroke-width="0.5" />
<circle cx="99.6" cy="693.5" r="3.6" fill="#1a1a1a" stroke="#111" stroke-width="0"/>
<circle cx="99.6" cy="693.5" r="2.3" fill="#fff" stroke="#fff" stroke-width="0.6"/>
<circle cx="99.6" cy="693.5" r="1.0" fill="#555" stroke="#111" stroke-width="0.4"/>
<circle cx="126.2" cy="693.5" r="3.6" fill="#1a1a1a" stroke="#111" stroke-width="0"/>
<circle cx="126.2" cy="693.5" r="2.3" fill="#fff" stroke="#fff" stroke-width="0.6"/>
<circle cx="126.2" cy="693.5" r="1.0" fill="#555" stroke="#111" stroke-width="0.4"/>
<circle cx="112.4" cy="693.5" r="4.6" fill="none" stroke="#111" stroke-width="1.6"/>
<circle cx="112.4" cy="693.5" r="2.6" fill="none" stroke="#111" stroke-width="1.2"/>
<circle cx="112.4" cy="693.5" r="0.9" fill="#1a1a1a" stroke="#111" stroke-width="0"/>
<polygon points="153.6,678.9 136.7,699.5 155.0,696.0" fill="#111" stroke="#111" stroke-width="9.9" stroke-linejoin="round"/>
<polygon points="153.6,678.9 136.7,699.5 155.0,696.0" fill="#fff" stroke="#fff" stroke-width="6.9" stroke-linejoin="round"/>
<line x1="144.9" y1="689" x2="155" y2="697" stroke="#111" stroke-width="9" stroke-linecap="round"/>
<line x1="144.9" y1="689" x2="155" y2="697" stroke="#fff" stroke-width="6.6" stroke-linecap="round"/>
<rect x="152.4" y="694.5" width="11.5" height="11" rx="2" fill="#1a1a1a" stroke="#1a1a1a" stroke-width="0.8" transform="rotate(40 158.2 700)"/>
<circle cx="153.6" cy="678.9" r="3.6" fill="#1a1a1a" stroke="#111" stroke-width="0"/>
<circle cx="153.6" cy="678.9" r="2.3" fill="#fff" stroke="#fff" stroke-width="0.6"/>
<circle cx="153.6" cy="678.9" r="1.0" fill="#555" stroke="#111" stroke-width="0.4"/>
<circle cx="136.7" cy="699.5" r="3.6" fill="#1a1a1a" stroke="#111" stroke-width="0"/>
<circle cx="136.7" cy="699.5" r="2.3" fill="#fff" stroke="#fff" stroke-width="0.6"/>
<circle cx="136.7" cy="699.5" r="1.0" fill="#555" stroke="#111" stroke-width="0.4"/>
<circle cx="144.9" cy="689.0" r="4.6" fill="none" stroke="#111" stroke-width="1.6"/>
<circle cx="144.9" cy="689.0" r="2.6" fill="none" stroke="#111" stroke-width="1.2"/>
<circle cx="144.9" cy="689.0" r="0.9" fill="#1a1a1a" stroke="#111" stroke-width="0"/>
<path d="M98,713 L105.3,721 L117.7,727.9 L156,727.9 L161.6,721 L170.6,716.9" fill="none" stroke="#111" stroke-width="1.1" />
<rect x="114.2" y="728.6" width="51.5" height="5.4" rx="0" fill="none" stroke="#111" stroke-width="1.1"/>
<line x1="117.0" y1="731.0" x2="163.0" y2="731.0" stroke="#111" stroke-width="1.3" />
<rect x="109.4" y="734.0" width="55.6" height="11.7" rx="0" fill="none" stroke="#111" stroke-width="1.1"/>
<line x1="109.4" y1="746.5" x2="165.0" y2="746.5" stroke="#111" stroke-width="2.0" />
<rect x="111.5" y="748.0" width="13.0" height="4.0" rx="0" fill="none" stroke="#111" stroke-width="1.1"/>
<rect x="150.6" y="748.0" width="11.7" height="4.0" rx="0" fill="none" stroke="#111" stroke-width="1.1"/>
<line x1="137.3" y1="700.0" x2="137.3" y2="760.0" stroke="#111" stroke-width="0.8" />
<path d="M120.4,603.9 L120.4,589.5 L143.8,589.5" fill="none" stroke="#111" stroke-width="1.1" />
<line x1="143.8" y1="589.5" x2="143.8" y2="650.6" stroke="#111" stroke-width="1.1" />
<line x1="170.0" y1="643.7" x2="170.0" y2="716.9" stroke="#111" stroke-width="1.9" />
<line x1="165.3" y1="643.7" x2="170.0" y2="643.7" stroke="#111" stroke-width="1.1" />
<rect x="145.1" y="573.0" width="35.1" height="15.8" rx="0" fill="none" stroke="#111" stroke-width="1.1"/>
<rect x="160.3" y="567.5" width="4.1" height="4.8" rx="0" fill="none" stroke="#111" stroke-width="1.1"/>
<line x1="154.0" y1="571.0" x2="154.0" y2="573.0" stroke="#111" stroke-width="1.1" />
<line x1="120.4" y1="593.0" x2="180.0" y2="593.0" stroke="#111" stroke-width="1.1" />
<line x1="145.0" y1="612.2" x2="210.0" y2="612.2" stroke="#111" stroke-width="1.1" />
<line x1="145.0" y1="616.3" x2="210.0" y2="616.3" stroke="#111" stroke-width="1.1" />
<line x1="143.8" y1="588.8" x2="210.0" y2="588.8" stroke="#111" stroke-width="1.1" />
<circle cx="171.2" cy="631.4" r="2.5" fill="none" stroke="#111" stroke-width="1.1"/>
<line x1="180.9" y1="588.0" x2="180.9" y2="693.5" stroke="#111" stroke-width="1.9" />
<path d="M170.6,689 L181.6,689 L192.6,689.4 L218.7,684" fill="none" stroke="#111" stroke-width="1.1" />
<path d="M170.6,716.9 L192.6,716.9 L192.6,710.7 L218.7,701.8" fill="none" stroke="#111" stroke-width="1.1" />
<line x1="192.6" y1="689.4" x2="192.6" y2="710.7" stroke="#111" stroke-width="1.1" />
<rect x="218.7" y="682.6" width="10.9" height="18.5" rx="0" fill="none" stroke="#111" stroke-width="1.1"/>
<line x1="221.0" y1="683.0" x2="221.0" y2="701.0" stroke="#111" stroke-width="1.6" />
<rect x="203.5" y="576.4" width="5.5" height="6.2" rx="0" fill="none" stroke="#111" stroke-width="1.1"/>
<rect x="203.5" y="582.6" width="5.5" height="8.2" rx="0" fill="none" stroke="#111" stroke-width="1.1"/>
<rect x="203.5" y="608.0" width="5.5" height="8.9" rx="0" fill="none" stroke="#111" stroke-width="1.1"/>
<rect x="203.5" y="637.5" width="5.5" height="8.9" rx="0" fill="none" stroke="#111" stroke-width="1.1"/>
<rect x="203.5" y="665.0" width="5.5" height="8.0" rx="0" fill="none" stroke="#111" stroke-width="1.1"/>
<line x1="209.0" y1="576.0" x2="209.0" y2="681.9" stroke="#111" stroke-width="1.9" />
<line x1="210.9" y1="572.3" x2="210.9" y2="681.9" stroke="#111" stroke-width="1.9" />
<rect x="215.2" y="578.4" width="6.2" height="33.0" rx="0" fill="none" stroke="#111" stroke-width="1.1"/>
<line x1="215.2" y1="578.4" x2="221.4" y2="611.4" stroke="#111" stroke-width="0.8" />
<line x1="221.4" y1="578.4" x2="215.2" y2="611.4" stroke="#111" stroke-width="0.8" />
<line x1="210.9" y1="572.3" x2="221.4" y2="572.3" stroke="#111" stroke-width="1.1" />
<path d="M221.4,572.3 L229,572.3 Q236.5,572.3 236.5,580 Q237,586.7 243.4,586.7" fill="none" stroke="#111" stroke-width="1.1" />
<line x1="221.4" y1="572.3" x2="221.4" y2="620.0" stroke="#111" stroke-width="1.1" />
<line x1="229.6" y1="572.3" x2="229.6" y2="612.0" stroke="#111" stroke-width="1.1" />
<line x1="229.6" y1="612.0" x2="236.5" y2="612.0" stroke="#111" stroke-width="1.1" />
<rect x="225.2" y="553.0" width="23.4" height="33.7" rx="3" fill="none" stroke="#111" stroke-width="1.1"/>
<circle cx="236.8" cy="565.4" r="3.5" fill="none" stroke="#111" stroke-width="1.1"/>
<line x1="243.4" y1="586.7" x2="374.8" y2="563.4" stroke="#111" stroke-width="1.1" />
<line x1="243.0" y1="621.0" x2="270.0" y2="621.0" stroke="#111" stroke-width="1.1" />
<line x1="225.0" y1="629.2" x2="255.0" y2="629.2" stroke="#111" stroke-width="1.1" />
<path d="M210.9,681.9 L228,681.9 Q233,681 233,676 L233,629" fill="none" stroke="#111" stroke-width="1.1" />
<rect x="225.5" y="697.7" width="23.4" height="36.3" rx="3" fill="none" stroke="#111" stroke-width="1.1"/>
<circle cx="236.8" cy="721.0" r="3.5" fill="none" stroke="#111" stroke-width="1.1"/>
<circle cx="250.2" cy="721.0" r="2.8" fill="none" stroke="#111" stroke-width="1.1"/>
<line x1="225.0" y1="672.0" x2="255.0" y2="672.0" stroke="#111" stroke-width="0.8" />
<path d="M238,628 Q248,638 243,658 Q239,680 247,700" fill="none" stroke="#111" stroke-width="1.1" />
<path d="M247,627 Q256,638 251,658 Q248,678 255,697" fill="none" stroke="#111" stroke-width="1.1" />
<rect x="225.7" y="650.0" width="12.6" height="6.8" rx="0" fill="none" stroke="#111" stroke-width="1.1"/>
<circle cx="232.0" cy="653.4" r="2.3" fill="none" stroke="#111" stroke-width="1.3"/>
<rect x="223.0" y="651.0" width="3.0" height="4.8" rx="0" fill="none" stroke="#111" stroke-width="1.1"/>
<line x1="236.5" y1="627.0" x2="255.0" y2="627.0" stroke="#111" stroke-width="1.1" />
<line x1="236.5" y1="635.0" x2="255.0" y2="635.0" stroke="#111" stroke-width="0.8" />
<path d="M234.8,574.3 Q236,586 240.6,589.2 Q258,600 265.8,622.4" fill="none" stroke="#111" stroke-width="1.1" />
<line x1="242.9" y1="621.3" x2="255.0" y2="621.3" stroke="#111" stroke-width="1.1" />
<path d="M172,682 L220,682" fill="none" stroke="#111" stroke-width="0.8" />
<line x1="374.8" y1="563.4" x2="450.6" y2="563.4" stroke="#111" stroke-width="1.1" />
<path d="M450.6,563.4 Q462,563 466,556 Q469,552.3 470.4,552.3" fill="none" stroke="#111" stroke-width="1.1" />
<path d="M374.8,563.4 Q384.9,580 384.9,604.6 L384.9,628" fill="none" stroke="#111" stroke-width="1.1" />
<rect x="402.7" y="553.4" width="23.4" height="10.0" rx="3" fill="none" stroke="#111" stroke-width="1.1"/>
<path d="M422,574.6 A6.5,4.5 0 1 0 434.6,574.6 A6.5,4.5 0 1 0 422,574.6" fill="none" stroke="#111" stroke-width="1.1" />
<circle cx="428.3" cy="573.5" r="3.0" fill="none" stroke="#111" stroke-width="1.0"/>
<path d="M391,596.7 L447,596.7 Q453.8,598 453.8,606 L453.8,620 Q453.8,627.6 446,627.6 L391,627.6 Q385,627.6 385,620 L385,604 Q385,596.7 391,596.7 Z" fill="none" stroke="#111" stroke-width="1.1" />
<line x1="384.9" y1="604.6" x2="450.0" y2="604.6" stroke="#111" stroke-width="1.1" />
<path d="M243,599 Q258,606 265.6,622.5" fill="none" stroke="#111" stroke-width="0.8" />
<line x1="265.6" y1="622.5" x2="383.0" y2="622.5" stroke="#111" stroke-width="1.1" />
<rect x="305.0" y="617.5" width="30.0" height="11.0" rx="5" fill="none" stroke="#111" stroke-width="1.1"/>
<line x1="313.0" y1="617.5" x2="313.0" y2="628.5" stroke="#111" stroke-width="0.8" />
<line x1="327.0" y1="617.5" x2="327.0" y2="628.5" stroke="#111" stroke-width="0.8" />
<line x1="308.0" y1="624.0" x2="332.0" y2="624.0" stroke="#111" stroke-width="0.8" />
<circle cx="333.0" cy="619.0" r="2.0" fill="none" stroke="#111" stroke-width="1.1"/>
<line x1="242.4" y1="587.0" x2="242.4" y2="628.0" stroke="#111" stroke-width="1.1" />
<line x1="400.0" y1="629.0" x2="470.0" y2="629.0" stroke="#111" stroke-width="0.8" />
<line x1="400.0" y1="634.7" x2="470.0" y2="634.7" stroke="#111" stroke-width="1.1" />
<line x1="450.3" y1="563.0" x2="450.3" y2="597.7" stroke="#111" stroke-width="1.1" />
<line x1="459.5" y1="575.0" x2="459.5" y2="597.7" stroke="#111" stroke-width="1.1" />
<line x1="440.0" y1="603.8" x2="462.0" y2="603.8" stroke="#111" stroke-width="1.1" />
<path d="M254.4,629.4 L400.7,629.4 L400.7,776.5 Q400.7,780.5 396.7,780.5 L258.4,780.5 Q254.4,780.5 254.4,776.5 Z" fill="none" stroke="#111" stroke-width="1.6" />
<line x1="254.4" y1="647.4" x2="400.7" y2="647.4" stroke="#111" stroke-width="2.0" />
<path d="M256.5,645 L256.5,632 M398.5,645 L398.5,632" fill="none" stroke="#111" stroke-width="1.1" />
<path d="M264,653 L391,653 Q394,653 394,656 L394,774.6 Q394,777.6 391,777.6 L264,777.6 Q261,777.6 261,774.6 L261,656 Q261,653 264,653 Z" fill="none" stroke="#111" stroke-width="1.1" />
<line x1="265.8" y1="655.0" x2="389.4" y2="655.0" stroke="#111" stroke-width="1.1" />
<line x1="265.8" y1="655.0" x2="280.0" y2="679.5" stroke="#111" stroke-width="1.1" />
<line x1="389.4" y1="655.0" x2="375.3" y2="679.5" stroke="#111" stroke-width="1.1" />
<line x1="278.0" y1="679.5" x2="377.2" y2="679.5" stroke="#111" stroke-width="1.1" />
<line x1="280.0" y1="682.5" x2="375.0" y2="682.5" stroke="#111" stroke-width="1.1" />
<line x1="278.0" y1="679.5" x2="278.0" y2="774.8" stroke="#111" stroke-width="1.1" />
<line x1="281.0" y1="682.5" x2="281.0" y2="774.8" stroke="#111" stroke-width="1.1" />
<line x1="377.2" y1="679.5" x2="377.2" y2="774.8" stroke="#111" stroke-width="1.1" />
<line x1="374.2" y1="682.5" x2="374.2" y2="774.8" stroke="#111" stroke-width="1.1" />
<line x1="261.0" y1="773.0" x2="278.0" y2="774.8" stroke="#111" stroke-width="0.8" />
<line x1="394.0" y1="773.0" x2="377.2" y2="774.8" stroke="#111" stroke-width="0.8" />
<circle cx="258.0" cy="650.0" r="1.8" fill="#1a1a1a" stroke="#111" stroke-width="0.5"/>
<circle cx="397.0" cy="650.0" r="1.8" fill="#1a1a1a" stroke="#111" stroke-width="0.5"/>
<circle cx="258.0" cy="714.0" r="1.8" fill="#1a1a1a" stroke="#111" stroke-width="0.5"/>
<circle cx="397.0" cy="714.0" r="1.8" fill="#1a1a1a" stroke="#111" stroke-width="0.5"/>
<circle cx="258.0" cy="778.0" r="1.8" fill="#1a1a1a" stroke="#111" stroke-width="0.5"/>
<circle cx="397.0" cy="778.0" r="1.8" fill="#1a1a1a" stroke="#111" stroke-width="0.5"/>
<rect x="402.4" y="552.8" width="24.3" height="10.6" rx="3" fill="none" stroke="#111" stroke-width="1.1"/>
<rect x="402.0" y="716.5" width="24.2" height="17.2" rx="3" fill="none" stroke="#111" stroke-width="1.1"/>
<circle cx="414.1" cy="721.6" r="3.5" fill="none" stroke="#111" stroke-width="1.1"/>
<circle cx="436.7" cy="701.5" r="17.0" fill="none" stroke="#111" stroke-width="1.1"/>
<circle cx="436.7" cy="701.5" r="14.5" fill="none" stroke="#111" stroke-width="0.8"/>
<path d="M400.6,694.5 Q425,692 438,694 Q447,697 443,705 Q439,709 433,705" fill="none" stroke="#111" stroke-width="6"/>
<path d="M400.6,694.5 Q425,692 438,694 Q447,697 443,705 Q439,709 433,705" fill="none" stroke="#fff" stroke-width="4.0"/>
<rect x="430.5" y="682.0" width="12.9" height="3.1" rx="0" fill="none" stroke="#111" stroke-width="1.1"/>
<path d="M447,680 Q452,676 458,684 L462,690" fill="none" stroke="#111" stroke-width="1.1" />
<line x1="451.1" y1="640.0" x2="451.1" y2="680.0" stroke="#111" stroke-width="1.1" />
<line x1="459.8" y1="640.0" x2="459.8" y2="680.0" stroke="#111" stroke-width="1.1" />
<line x1="464.9" y1="635.0" x2="464.9" y2="685.0" stroke="#111" stroke-width="1.1" />
<line x1="470.1" y1="635.0" x2="470.1" y2="685.0" stroke="#111" stroke-width="1.1" />
<line x1="400.0" y1="639.8" x2="452.0" y2="639.8" stroke="#111" stroke-width="1.1" />
<line x1="400.0" y1="651.9" x2="452.0" y2="651.9" stroke="#111" stroke-width="1.1" />
<line x1="400.0" y1="657.9" x2="452.0" y2="657.9" stroke="#111" stroke-width="1.1" />
<line x1="470.4" y1="552.2" x2="533.0" y2="552.2" stroke="#111" stroke-width="1.1" />
<line x1="469.8" y1="552.2" x2="469.8" y2="623.3" stroke="#111" stroke-width="1.1" />
<line x1="464.3" y1="565.0" x2="464.3" y2="623.0" stroke="#111" stroke-width="1.1" />
<line x1="522.7" y1="552.2" x2="522.7" y2="703.5" stroke="#111" stroke-width="1.1" />
<line x1="533.0" y1="552.2" x2="533.0" y2="703.5" stroke="#111" stroke-width="1.9" />
<line x1="471.0" y1="636.0" x2="471.0" y2="684.6" stroke="#111" stroke-width="1.1" />
<line x1="522.6" y1="703.5" x2="533.8" y2="703.5" stroke="#111" stroke-width="1.1" />
<rect x="533.0" y="555.8" width="6.7" height="6.7" rx="0" fill="none" stroke="#111" stroke-width="1.1"/>
<rect x="533.0" y="562.5" width="6.7" height="9.7" rx="0" fill="none" stroke="#111" stroke-width="1.1"/>
<rect x="533.0" y="575.3" width="6.7" height="8.5" rx="0" fill="none" stroke="#111" stroke-width="1.1"/>
<rect x="533.0" y="592.3" width="6.7" height="8.5" rx="0" fill="none" stroke="#111" stroke-width="1.1"/>
<rect x="533.0" y="612.3" width="6.7" height="9.2" rx="0" fill="none" stroke="#111" stroke-width="1.1"/>
<rect x="533.0" y="622.7" width="6.7" height="9.7" rx="0" fill="none" stroke="#111" stroke-width="1.1"/>
<rect x="533.0" y="637.0" width="6.7" height="9.0" rx="0" fill="none" stroke="#111" stroke-width="1.1"/>
<rect x="533.0" y="656.0" width="6.7" height="8.0" rx="0" fill="none" stroke="#111" stroke-width="1.1"/>
<rect x="533.0" y="672.0" width="6.7" height="8.0" rx="0" fill="none" stroke="#111" stroke-width="1.1"/>
<rect x="533.0" y="688.0" width="6.7" height="9.0" rx="0" fill="none" stroke="#111" stroke-width="1.1"/>
<path d="M537.3,574 Q556,628 537.3,685" fill="none" stroke="#111" stroke-width="1.1" />
<line x1="451.1" y1="563.0" x2="464.3" y2="563.0" stroke="#111" stroke-width="1.1" />
<path d="M455.1,719.6 L455.1,684.6 L519.2,684.6 L519.2,719.6 Z" fill="none" stroke="#111" stroke-width="1.1" />
<line x1="463.7" y1="689.8" x2="463.7" y2="719.6" stroke="#111" stroke-width="1.1" />
<line x1="511.4" y1="689.8" x2="511.4" y2="719.6" stroke="#111" stroke-width="1.1" />
<line x1="463.7" y1="689.8" x2="511.4" y2="689.8" stroke="#111" stroke-width="1.1" />
<circle cx="487.3" cy="697.8" r="2.5" fill="none" stroke="#111" stroke-width="1.1"/>
<path d="M448.6,676.8 Q455,672 462,680 L465,689.8" fill="none" stroke="#111" stroke-width="1.1" />
<path d="M511.4,684.6 Q520,683 522,696" fill="none" stroke="#111" stroke-width="1.1" />
<line x1="455.0" y1="721.8" x2="519.0" y2="721.8" stroke="#111" stroke-width="1.8" />
<rect x="456.3" y="723.3" width="62.0" height="14.7" rx="0" fill="none" stroke="#111" stroke-width="1.1"/>
<rect x="457.0" y="738.0" width="12.0" height="4.7" rx="0" fill="none" stroke="#111" stroke-width="1.1"/>
<rect x="506.3" y="738.0" width="11.2" height="4.7" rx="0" fill="none" stroke="#111" stroke-width="1.1"/>
<line x1="487.3" y1="723.0" x2="487.3" y2="760.0" stroke="#111" stroke-width="0.8" />
<rect x="520.0" y="707.0" width="9.5" height="6.0" rx="0" fill="none" stroke="#111" stroke-width="1.1"/>
<line x1="743.5" y1="509.6" x2="790.5" y2="601.0" stroke="#111" stroke-width="0.8" />
<line x1="781.7" y1="509.6" x2="849.7" y2="672.0" stroke="#111" stroke-width="0.8" />
<line x1="819.6" y1="509.6" x2="903.2" y2="600.0" stroke="#111" stroke-width="0.8" />
<line x1="919.6" y1="509.6" x2="907.7" y2="655.6" stroke="#111" stroke-width="0.8" />
<line x1="958.7" y1="509.6" x2="934.8" y2="617.0" stroke="#111" stroke-width="0.8" />
<line x1="878.3" y1="823.5" x2="912.2" y2="729.0" stroke="#111" stroke-width="0.8" />
<path d="M728,528.2 L740.4,528.2 L744.5,531.7 L761,531.7 Q765.1,531.7 765.1,536 L765.1,557" fill="none" stroke="#111" stroke-width="1.1" />
<path d="M732,533 L760,533 Q762.5,533 762.5,536 L762.5,556" fill="none" stroke="#111" stroke-width="0.8" />
<path d="M728,528.2 L737.7,545.4 L726,554.3 L734.2,573.5 L723.2,597.6 L739.3,628.3 L720.9,643.5 L741.5,670.7 L722,689.1 L745.9,712 L727.4,729.3 L742.6,739.1" fill="none" stroke="#111" stroke-width="1.1" />
<line x1="726.0" y1="554.3" x2="763.0" y2="554.3" stroke="#111" stroke-width="1.1" />
<line x1="730.0" y1="560.5" x2="763.0" y2="560.5" stroke="#111" stroke-width="1.1" />
<line x1="760.3" y1="560.5" x2="760.3" y2="590.7" stroke="#111" stroke-width="1.1" />
<line x1="766.5" y1="557.0" x2="766.5" y2="590.7" stroke="#111" stroke-width="1.1" />
<path d="M732,579 L752,579 Q754.8,580 754.8,586" fill="none" stroke="#111" stroke-width="1.1" />
<line x1="727.0" y1="587.3" x2="750.0" y2="587.3" stroke="#111" stroke-width="1.1" />
<path d="M754.8,591.4 L776.8,591.4 Q785,592 790.5,599" fill="none" stroke="#111" stroke-width="1.1" />
<circle cx="775.4" cy="603.1" r="6.5" fill="none" stroke="#111" stroke-width="1.1"/>
<circle cx="775.4" cy="603.1" r="4.5" fill="none" stroke="#111" stroke-width="0.8"/>
<line x1="722.0" y1="606.5" x2="768.0" y2="606.5" stroke="#111" stroke-width="1.1" />
<line x1="728.0" y1="613.0" x2="755.7" y2="613.0" stroke="#111" stroke-width="1.1" />
<path d="M755.7,613 Q770,620 777.4,640.2" fill="none" stroke="#111" stroke-width="1.1" />
<path d="M742.6,739.1 L750.2,737 Q770,715 777.4,682.6" fill="none" stroke="#111" stroke-width="1.1" />
<path d="M777.4,640.2 Q775,661 777.4,683.7" fill="none" stroke="#111" stroke-width="1.1" />
<line x1="723.0" y1="696.7" x2="772.0" y2="696.7" stroke="#111" stroke-width="1.1" />
<path d="M772,780.4 L772,738 Q772,732.6 778,732.6 Q784,733 786,740 Q790,748 795.9,750 L795.9,780.4 Z" fill="none" stroke="#111" stroke-width="1.1" />
<line x1="772.0" y1="770.7" x2="795.9" y2="770.7" stroke="#111" stroke-width="1.1" />
<line x1="776.0" y1="738.0" x2="776.0" y2="780.4" stroke="#111" stroke-width="0.8" />
<line x1="790.0" y1="748.0" x2="790.0" y2="780.4" stroke="#111" stroke-width="0.8" />
<path d="M777.4,606 Q777.4,602.2 781,602.2 L811.6,602.2 L811.6,751 L781,751 Q777.4,751 777.4,747 Z" fill="none" stroke="#111" stroke-width="1.1" />
<line x1="783.9" y1="602.2" x2="783.9" y2="751.0" stroke="#111" stroke-width="1.1" />
<line x1="791.5" y1="602.2" x2="791.5" y2="751.0" stroke="#111" stroke-width="1.1" />
<line x1="799.1" y1="602.2" x2="799.1" y2="751.0" stroke="#111" stroke-width="1.1" />
<line x1="811.6" y1="601.9" x2="811.6" y2="751.7" stroke="#111" stroke-width="1.9" />
<rect x="800.0" y="603.0" width="10.5" height="18.0" rx="3" fill="none" stroke="#111" stroke-width="1.1"/>
<rect x="802.5" y="606.0" width="5.5" height="12.0" rx="2" fill="none" stroke="#111" stroke-width="0.8"/>
<rect x="800.0" y="733.0" width="10.5" height="18.0" rx="3" fill="none" stroke="#111" stroke-width="1.1"/>
<rect x="802.5" y="736.0" width="5.5" height="12.0" rx="2" fill="none" stroke="#111" stroke-width="0.8"/>
<line x1="777.4" y1="640.2" x2="811.1" y2="640.2" stroke="#111" stroke-width="1.1" />
<line x1="783.9" y1="720.7" x2="811.1" y2="720.7" stroke="#111" stroke-width="1.1" />
<line x1="783.9" y1="726.0" x2="799.1" y2="726.0" stroke="#111" stroke-width="1.1" />
<rect x="811.6" y="603.8" width="6.0" height="9.7" rx="0" fill="none" stroke="#111" stroke-width="1.1"/>
<rect x="811.6" y="621.6" width="6.0" height="11.4" rx="0" fill="none" stroke="#111" stroke-width="1.1"/>
<rect x="811.6" y="653.2" width="6.0" height="9.8" rx="0" fill="none" stroke="#111" stroke-width="1.1"/>
<rect x="811.6" y="684.0" width="6.0" height="9.7" rx="0" fill="none" stroke="#111" stroke-width="1.1"/>
<rect x="811.6" y="715.0" width="6.0" height="10.0" rx="0" fill="none" stroke="#111" stroke-width="1.1"/>
<rect x="811.6" y="734.8" width="6.0" height="14.6" rx="0" fill="none" stroke="#111" stroke-width="1.1"/>
<line x1="876.5" y1="620.0" x2="876.5" y2="735.0" stroke="#111" stroke-width="1.9" />
<line x1="817.3" y1="614.5" x2="876.5" y2="614.5" stroke="#111" stroke-width="0.8" />
<line x1="817.3" y1="645.5" x2="876.5" y2="645.5" stroke="#111" stroke-width="1.1" />
<rect x="841.0" y="667.2" width="20.8" height="8.0" rx="0" fill="none" stroke="#111" stroke-width="1.1"/>
<circle cx="849.2" cy="662.6" r="1.8" fill="#1a1a1a" stroke="#111" stroke-width="0.6"/>
<circle cx="849.2" cy="679.8" r="1.8" fill="#1a1a1a" stroke="#111" stroke-width="0.6"/>
<circle cx="867.5" cy="679.8" r="1.8" fill="#1a1a1a" stroke="#111" stroke-width="0.6"/>
<line x1="811.4" y1="662.6" x2="884.0" y2="662.6" stroke="#111" stroke-width="1.9" />
<line x1="811.4" y1="683.2" x2="884.0" y2="683.2" stroke="#111" stroke-width="1.9" />
<path d="M840,684.4 L884.6,684.4 L884.6,750.7 L846,750.7 Q840,750.7 840,744 Z" fill="none" stroke="#111" stroke-width="1.1" />
<line x1="840.0" y1="734.7" x2="884.6" y2="734.7" stroke="#111" stroke-width="1.1" />
<rect x="840.0" y="620.3" width="35.5" height="16.0" rx="0" fill="none" stroke="#111" stroke-width="1.1"/>
<line x1="812.8" y1="703.8" x2="883.9" y2="703.8" stroke="#111" stroke-width="1.1" />
<path d="M812.8,734.8 L946.8,731 L946.8,750.3 L846,751.2 Q842,751 842,745 L842,736" fill="none" stroke="#111" stroke-width="1.1" />
<line x1="812.8" y1="751.2" x2="846.0" y2="751.2" stroke="#111" stroke-width="1.1" />
<circle cx="897.6" cy="729.0" r="2.5" fill="none" stroke="#111" stroke-width="1.1"/>
<circle cx="912.2" cy="729.0" r="2.5" fill="none" stroke="#111" stroke-width="1.2"/>
<rect x="855.6" y="604.3" width="12.2" height="14.5" rx="0" fill="#1a1a1a" stroke="#111" stroke-width="0"/>
<rect x="857.8" y="606.0" width="2.0" height="11.0" rx="0" fill="#fff" stroke="#111" stroke-width="0"/>
<rect x="865.5" y="607.4" width="15.9" height="11.4" rx="0" fill="#1a1a1a" stroke="#111" stroke-width="0"/>
<rect x="868.0" y="610.4" width="10.6" height="6.0" rx="0" fill="#fff" stroke="#111" stroke-width="0"/>
<rect x="885.2" y="602.0" width="12.2" height="16.0" rx="0" fill="#1a1a1a" stroke="#111" stroke-width="0"/>
<rect x="887.5" y="610.4" width="6.8" height="6.8" rx="0" fill="#fff" stroke="#111" stroke-width="0"/>
<rect x="889.0" y="612.0" width="3.0" height="3.0" rx="0" fill="#1a1a1a" stroke="#111" stroke-width="0"/>
<rect x="906.5" y="602.8" width="14.5" height="15.2" rx="0" fill="#1a1a1a" stroke="#111" stroke-width="0"/>
<rect x="910.0" y="608.0" width="2.0" height="9.0" rx="0" fill="#fff" stroke="#111" stroke-width="0"/>
<rect x="915.0" y="608.0" width="2.5" height="9.0" rx="0" fill="#fff" stroke="#111" stroke-width="0"/>
<rect x="922.5" y="602.0" width="9.1" height="16.8" rx="0" fill="#1a1a1a" stroke="#111" stroke-width="0"/>
<rect x="926.0" y="607.0" width="2.0" height="10.0" rx="0" fill="#fff" stroke="#111" stroke-width="0"/>
<rect x="846.5" y="609.6" width="7.5" height="9.2" rx="0" fill="none" stroke="#111" stroke-width="1.1"/>
<line x1="850.0" y1="611.0" x2="850.0" y2="617.0" stroke="#111" stroke-width="0.8" />
<rect x="876.9" y="618.8" width="48.6" height="5.2" rx="0" fill="none" stroke="#111" stroke-width="1.1"/>
<rect x="879.0" y="624.0" width="49.5" height="10.7" rx="0" fill="none" stroke="#111" stroke-width="1.9"/>
<line x1="885.0" y1="624.0" x2="885.0" y2="634.7" stroke="#111" stroke-width="0.8" />
<rect x="899.7" y="599.0" width="6.8" height="19.0" rx="0" fill="none" stroke="#111" stroke-width="1.1"/>
<line x1="899.7" y1="605.0" x2="906.5" y2="605.0" stroke="#111" stroke-width="0.8" />
<line x1="899.7" y1="611.0" x2="906.5" y2="611.0" stroke="#111" stroke-width="0.8" />
<rect x="838.9" y="618.8" width="37.2" height="31.2" rx="0" fill="none" stroke="#111" stroke-width="1.1"/>
<rect x="928.3" y="632.1" width="12.2" height="25.2" rx="0" fill="none" stroke="#111" stroke-width="1.1"/>
<line x1="928.3" y1="657.0" x2="928.3" y2="750.0" stroke="#111" stroke-width="1.1" />
<line x1="898.3" y1="634.0" x2="898.3" y2="700.0" stroke="#111" stroke-width="1.1" />
<line x1="902.4" y1="634.0" x2="902.4" y2="700.0" stroke="#111" stroke-width="1.1" />
<line x1="921.8" y1="634.0" x2="921.8" y2="735.0" stroke="#111" stroke-width="1.1" />
<line x1="925.9" y1="634.0" x2="925.9" y2="735.0" stroke="#111" stroke-width="0.8" />
<rect x="931.6" y="616.5" width="6.1" height="15.2" rx="0" fill="none" stroke="#111" stroke-width="1.1"/>
<line x1="931.6" y1="624.0" x2="937.7" y2="624.0" stroke="#111" stroke-width="0.8" />
<rect x="927.7" y="661.8" width="10.0" height="12.8" rx="0" fill="none" stroke="#111" stroke-width="1.1"/>
<rect x="937.7" y="660.5" width="6.0" height="15.0" rx="0" fill="none" stroke="#111" stroke-width="1.1"/>
<rect x="943.7" y="662.0" width="4.0" height="12.0" rx="0" fill="none" stroke="#111" stroke-width="1.1"/>
<rect x="947.7" y="663.0" width="11.0" height="10.0" rx="0" fill="none" stroke="#111" stroke-width="1.1"/>
<line x1="940.5" y1="676.7" x2="940.5" y2="731.0" stroke="#111" stroke-width="1.1" />
<line x1="946.8" y1="690.0" x2="946.8" y2="750.0" stroke="#111" stroke-width="1.1" />
<rect x="946.8" y="691.0" width="4.6" height="8.0" rx="0" fill="none" stroke="#111" stroke-width="1.1"/>
<rect x="946.8" y="702.0" width="4.6" height="6.0" rx="0" fill="none" stroke="#111" stroke-width="1.1"/>
<rect x="946.8" y="740.0" width="4.6" height="6.6" rx="0" fill="none" stroke="#111" stroke-width="1.1"/>
<path d="M951,700 Q958,720 951,740" fill="none" stroke="#111" stroke-width="1.1" />
<path d="M876.5,686.4 L900,686.4 Q909.4,686.4 909.4,695.5 Q909.4,704.7 900,704.7 L876.5,704.7" fill="none" stroke="#111" stroke-width="1.1" />
<path d="M876.5,690 L899,690 Q905.5,690 905.5,695.5 Q905.5,701 899,701 L876.5,701" fill="none" stroke="#111" stroke-width="0.8" />
<path d="M885,712 L915,712 Q925,712 925,700 L925,634" fill="none" stroke="#111" stroke-width="0.8" />
<path d="M816,613 C840,608 860,592 885,590 C895,589 903,592 903,599.7" fill="none" stroke="#111" stroke-width="3.8"/>
<path d="M816,613 C840,608 860,592 885,590 C895,589 903,592 903,599.7" fill="none" stroke="#fff" stroke-width="2.1999999999999997"/>
<path d="M820,617 C850,606 880,589 915,589 C930,590 935,600 935,617" fill="none" stroke="#111" stroke-width="3.8"/>
<path d="M820,617 C850,606 880,589 915,589 C930,590 935,600 935,617" fill="none" stroke="#fff" stroke-width="2.1999999999999997"/>
<path d="M815,616 C830,618 835,635 842,652 C848,665 852,670 858,670.6" fill="none" stroke="#111" stroke-width="3.8"/>
<path d="M815,616 C830,618 835,635 842,652 C848,665 852,670 858,670.6" fill="none" stroke="#fff" stroke-width="2.1999999999999997"/>
<path d="M820.6,614.6 C842,618 852,635 860,660 C870,690 890,715 912,727.8" fill="none" stroke="#111" stroke-width="3.8"/>
<path d="M820.6,614.6 C842,618 852,635 860,660 C870,690 890,715 912,727.8" fill="none" stroke="#fff" stroke-width="2.1999999999999997"/>
<circle cx="908.6" cy="655.8" r="2.5" fill="none" stroke="#111" stroke-width="1.1"/>
</g>
</svg></body></html>
